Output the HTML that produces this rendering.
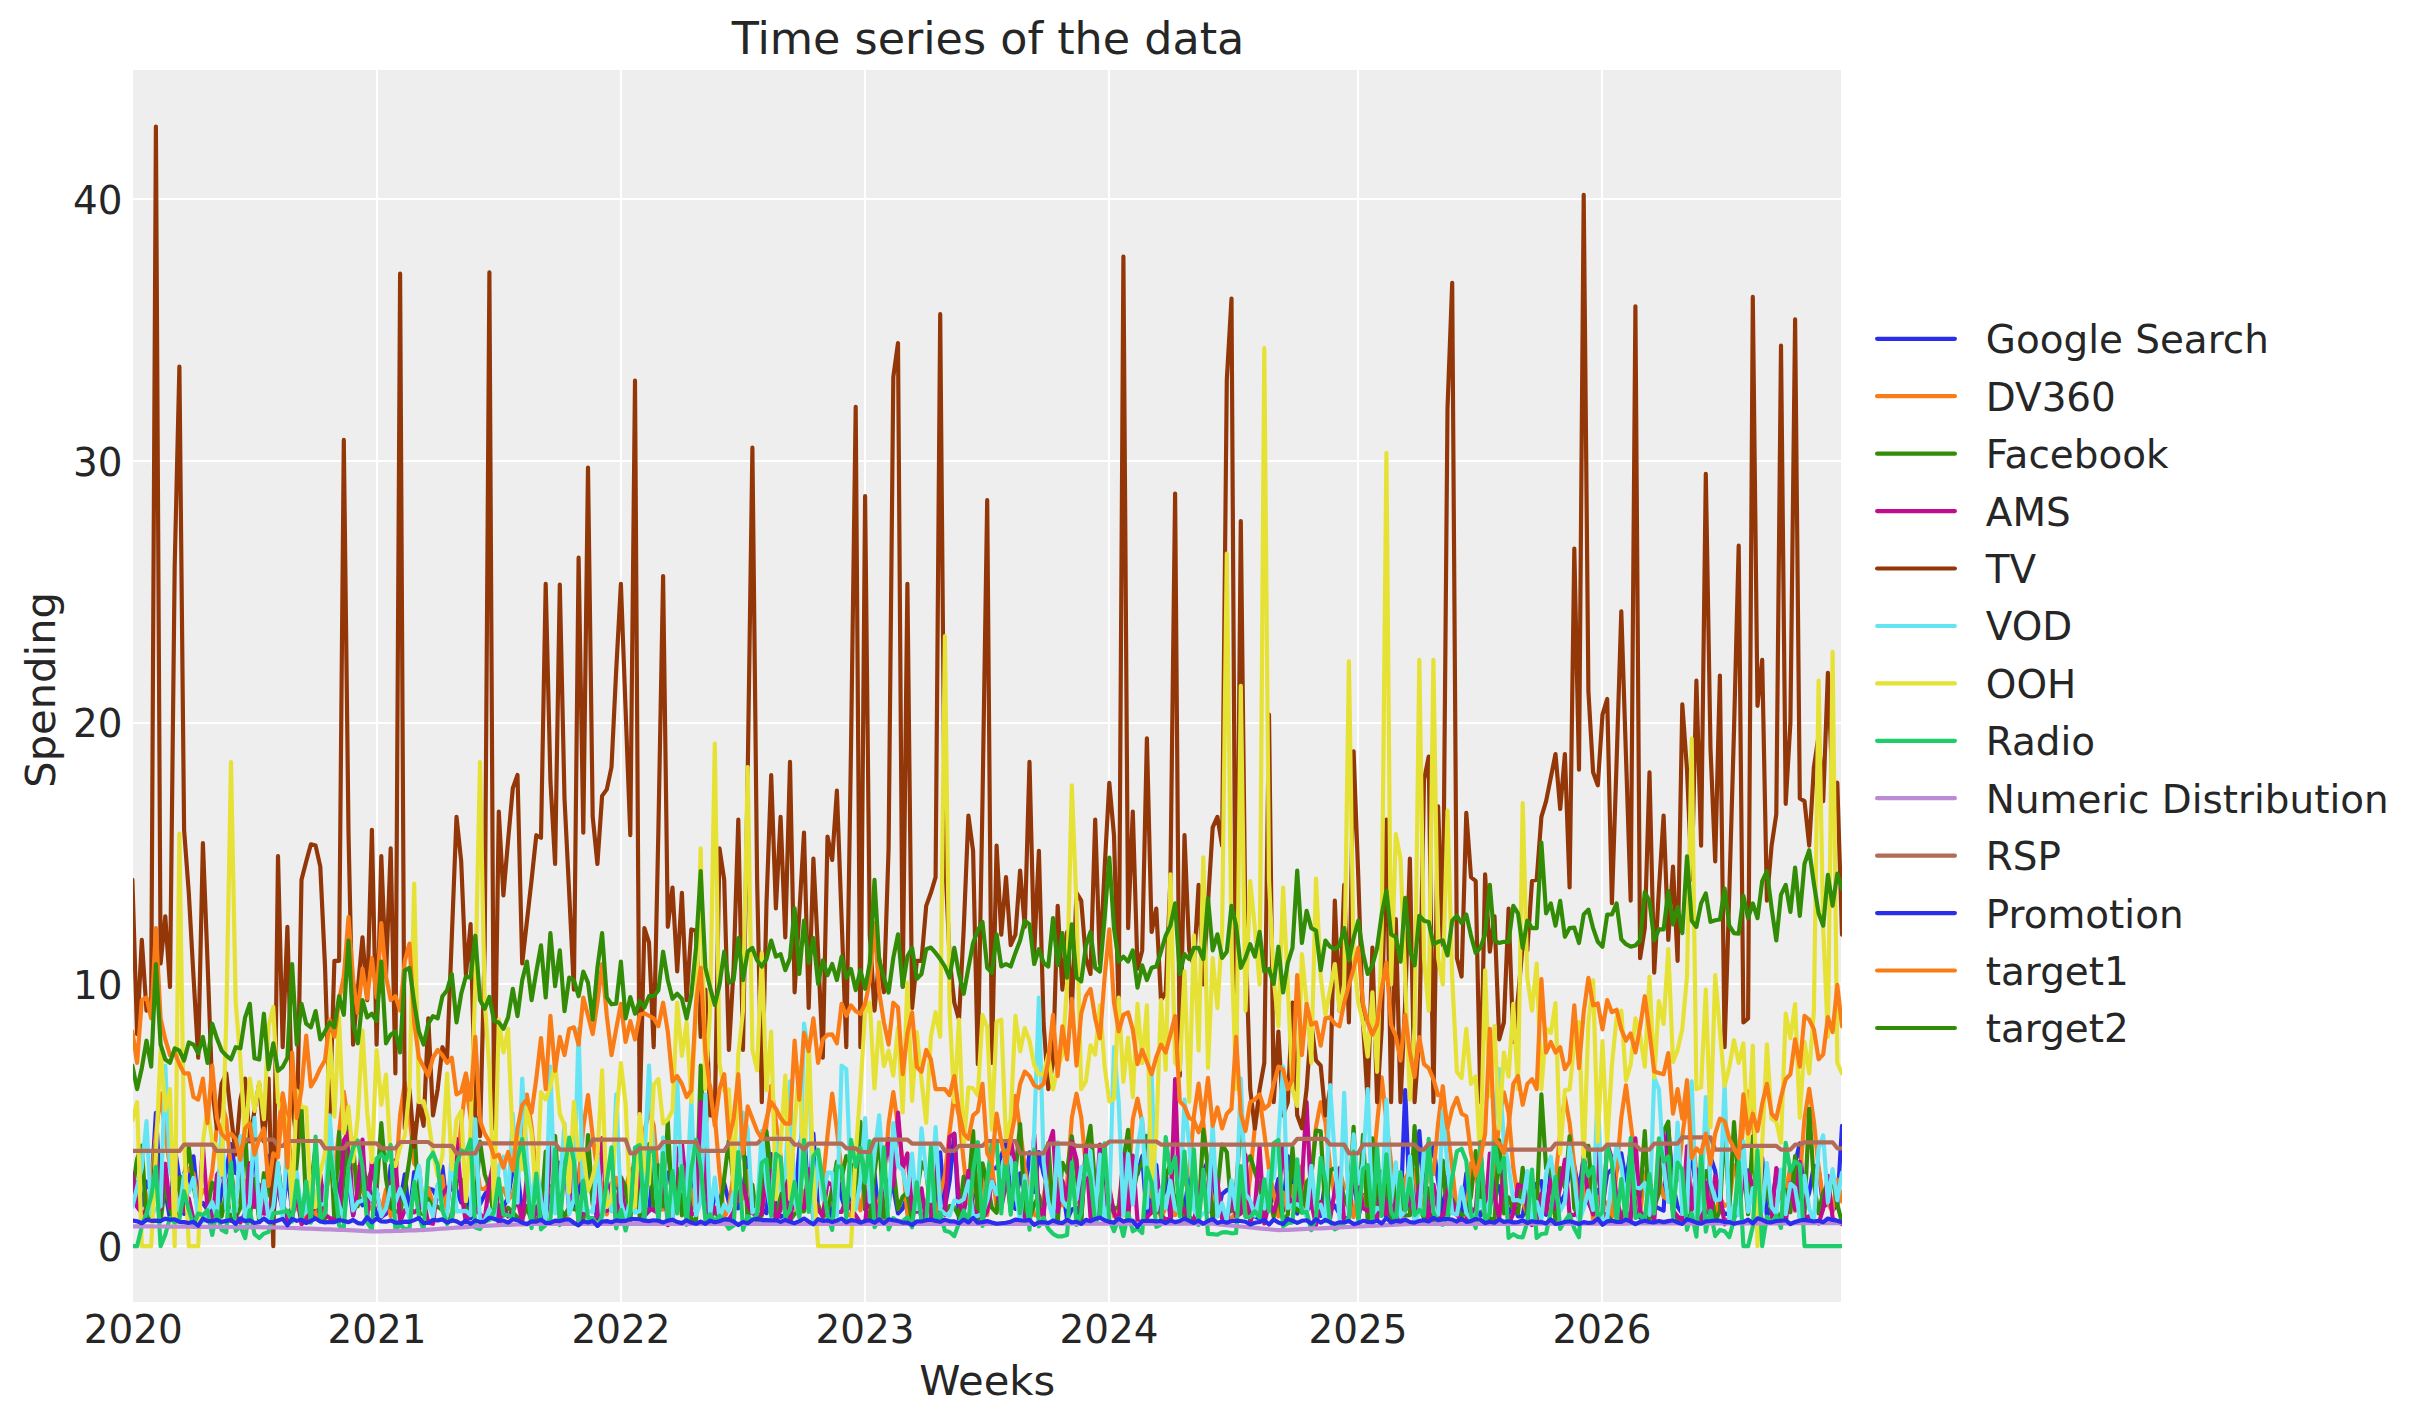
<!DOCTYPE html>
<html><head><meta charset="utf-8"><title>Time series of the data</title>
<style>html,body{margin:0;padding:0;background:#fff;}body{width:2423px;height:1423px;overflow:hidden;}svg{display:block;}text{font-family:"DejaVu Sans","Liberation Sans",sans-serif;fill:#262626;}</style></head><body>
<svg width="2423" height="1423" viewBox="0 0 2423 1423">
<rect x="0" y="0" width="2423" height="1423" fill="#ffffff"/>
<rect x="133.0" y="70.0" width="1708.0" height="1232.0" fill="#eeeeee"/>
<g stroke="#ffffff" stroke-width="2" fill="none">
<line x1="377.0" y1="70.0" x2="377.0" y2="1302.0"/>
<line x1="621.0" y1="70.0" x2="621.0" y2="1302.0"/>
<line x1="865.0" y1="70.0" x2="865.0" y2="1302.0"/>
<line x1="1109.0" y1="70.0" x2="1109.0" y2="1302.0"/>
<line x1="1358.0" y1="70.0" x2="1358.0" y2="1302.0"/>
<line x1="1602.0" y1="70.0" x2="1602.0" y2="1302.0"/>
<line x1="133.0" y1="1246.0" x2="1841.0" y2="1246.0"/>
<line x1="133.0" y1="984.0" x2="1841.0" y2="984.0"/>
<line x1="133.0" y1="723.0" x2="1841.0" y2="723.0"/>
<line x1="133.0" y1="461.0" x2="1841.0" y2="461.0"/>
<line x1="133.0" y1="199.0" x2="1841.0" y2="199.0"/>
</g>
<defs><clipPath id="c"><rect x="133.0" y="70.0" width="1709.0" height="1232.0"/></clipPath></defs>
<g clip-path="url(#c)" fill="none" stroke-width="4.17" stroke-linejoin="round" stroke-linecap="round">
<polyline stroke="#2a2eec" points="132.4,1181.5 137.1,1182.8 141.8,1205.5 146.5,1181.6 151.2,1191.0 155.9,1112.9 160.6,1196.7 165.3,1191.2 170.0,1219.2 174.7,1147.6 179.4,1178.1 184.1,1214.0 188.8,1181.5 193.5,1156.4 198.2,1205.0 202.9,1203.0 207.5,1209.9 212.2,1211.1 216.9,1219.3 221.6,1191.1 226.3,1170.3 231.0,1144.0 235.7,1173.1 240.4,1174.2 245.1,1211.3 249.8,1192.2 254.5,1144.1 259.2,1213.3 263.9,1213.0 268.6,1155.9 273.3,1218.3 278.0,1165.3 282.7,1211.0 287.4,1173.6 292.1,1208.9 296.8,1177.9 301.5,1216.9 306.2,1203.0 310.9,1209.1 315.6,1218.1 320.3,1205.1 325.0,1186.3 329.7,1176.1 334.4,1166.5 339.1,1201.9 343.8,1151.1 348.5,1182.4 353.1,1215.5 357.8,1193.6 362.5,1205.3 367.2,1182.6 371.9,1197.3 376.6,1214.7 381.3,1216.9 386.0,1213.8 390.7,1165.6 395.4,1182.8 400.1,1202.4 404.8,1174.3 409.5,1216.1 414.2,1172.0 418.9,1178.6 423.6,1209.4 428.3,1188.6 433.0,1189.7 437.7,1198.7 442.4,1166.6 447.1,1209.1 451.8,1170.1 456.5,1190.3 461.2,1202.5 465.9,1194.5 470.6,1218.3 475.3,1211.8 480.0,1204.1 484.7,1194.8 489.4,1188.0 494.1,1216.0 498.8,1216.6 503.4,1207.0 508.1,1197.5 512.8,1169.3 517.5,1172.2 522.2,1211.5 526.9,1206.0 531.6,1207.0 536.3,1207.3 541.0,1219.3 545.7,1214.3 550.4,1189.0 555.1,1180.4 559.8,1162.7 564.5,1181.8 569.2,1166.2 573.9,1207.2 578.6,1180.0 583.3,1205.1 588.0,1156.7 592.7,1201.8 597.4,1218.6 602.1,1205.1 606.8,1183.8 611.5,1198.4 616.2,1184.0 620.9,1185.8 625.6,1215.9 630.3,1212.1 635.0,1207.1 639.7,1174.4 644.4,1215.7 649.0,1211.1 653.7,1166.3 658.4,1211.2 663.1,1206.9 667.8,1172.5 672.5,1173.3 677.2,1169.8 681.9,1175.8 686.6,1203.2 691.3,1208.8 696.0,1166.3 700.7,1164.9 705.4,1214.3 710.1,1217.4 714.8,1196.4 719.5,1202.7 724.2,1183.3 728.9,1202.5 733.6,1192.1 738.3,1208.3 743.0,1190.2 747.7,1157.5 752.4,1204.5 757.1,1207.5 761.8,1209.1 766.5,1213.1 771.2,1154.0 775.9,1208.7 780.6,1216.8 785.3,1215.0 790.0,1202.4 794.6,1205.2 799.3,1148.4 804.0,1123.2 808.7,1208.9 813.4,1133.6 818.1,1210.0 822.8,1214.4 827.5,1203.6 832.2,1217.5 836.9,1171.1 841.6,1197.4 846.3,1212.6 851.0,1191.4 855.7,1170.4 860.4,1144.2 865.1,1209.4 869.8,1203.5 874.5,1173.2 879.2,1218.9 883.9,1178.4 888.6,1183.0 893.3,1187.6 898.0,1213.5 902.7,1208.5 907.4,1196.7 912.1,1210.6 916.8,1192.6 921.5,1218.9 926.2,1210.9 930.9,1176.8 935.6,1218.1 940.2,1152.4 944.9,1207.4 949.6,1181.2 954.3,1133.6 959.0,1219.3 963.7,1210.3 968.4,1193.2 973.1,1182.3 977.8,1204.4 982.5,1168.2 987.2,1191.7 991.9,1168.4 996.6,1168.2 1001.3,1155.8 1006.0,1143.0 1010.7,1198.7 1015.4,1208.8 1020.1,1173.4 1024.8,1193.6 1029.5,1152.4 1034.2,1192.0 1038.9,1152.0 1043.6,1173.9 1048.3,1186.7 1053.0,1212.6 1057.7,1210.1 1062.4,1186.7 1067.1,1219.5 1071.8,1209.4 1076.5,1207.8 1081.2,1218.1 1085.9,1152.7 1090.5,1181.6 1095.2,1215.6 1099.9,1208.3 1104.6,1173.5 1109.3,1190.5 1114.0,1213.1 1118.7,1215.2 1123.4,1183.5 1128.1,1204.9 1132.8,1157.2 1137.5,1174.2 1142.2,1156.2 1146.9,1220.0 1151.6,1179.3 1156.3,1165.1 1161.0,1215.9 1165.7,1171.4 1170.4,1219.0 1175.1,1204.9 1179.8,1211.6 1184.5,1208.5 1189.2,1175.5 1193.9,1173.5 1198.6,1215.4 1203.3,1172.1 1208.0,1160.4 1212.7,1168.8 1217.4,1214.4 1222.1,1194.1 1226.8,1190.1 1231.5,1189.0 1236.1,1216.2 1240.8,1207.0 1245.5,1207.4 1250.2,1208.1 1254.9,1216.5 1259.6,1219.0 1264.3,1185.0 1269.0,1203.9 1273.7,1198.4 1278.4,1178.8 1283.1,1210.8 1287.8,1156.2 1292.5,1177.4 1297.2,1213.7 1301.9,1177.4 1306.6,1210.6 1311.3,1205.6 1316.0,1208.2 1320.7,1216.0 1325.4,1179.2 1330.1,1211.0 1334.8,1205.4 1339.5,1214.0 1344.2,1219.1 1348.9,1217.2 1353.6,1170.2 1358.3,1218.0 1363.0,1195.1 1367.7,1206.1 1372.4,1207.2 1377.1,1196.2 1381.7,1209.0 1386.4,1216.3 1391.1,1171.2 1395.8,1176.5 1400.5,1214.5 1405.2,1090.2 1409.9,1205.6 1414.6,1210.9 1419.3,1131.0 1424.0,1192.9 1428.7,1163.2 1433.4,1146.8 1438.1,1181.0 1442.8,1213.8 1447.5,1176.8 1452.2,1205.3 1456.9,1214.8 1461.6,1214.1 1466.3,1173.4 1471.0,1214.4 1475.7,1207.9 1480.4,1215.8 1485.1,1204.2 1489.8,1207.4 1494.5,1183.0 1499.2,1186.7 1503.9,1211.0 1508.6,1214.0 1513.3,1203.3 1518.0,1216.4 1522.7,1216.1 1527.3,1187.6 1532.0,1191.2 1536.7,1183.8 1541.4,1181.1 1546.1,1214.9 1550.8,1170.8 1555.5,1182.7 1560.2,1203.7 1564.9,1194.1 1569.6,1172.8 1574.3,1166.3 1579.0,1190.7 1583.7,1157.3 1588.4,1202.1 1593.1,1212.8 1597.8,1189.8 1602.5,1205.5 1607.2,1173.8 1611.9,1169.4 1616.6,1171.1 1621.3,1153.3 1626.0,1181.6 1630.7,1149.6 1635.4,1207.9 1640.1,1217.6 1644.8,1217.5 1649.5,1218.3 1654.2,1206.0 1658.9,1208.4 1663.6,1210.7 1668.3,1128.4 1673.0,1185.0 1677.6,1206.7 1682.3,1213.6 1687.0,1170.7 1691.7,1159.0 1696.4,1188.4 1701.1,1170.3 1705.8,1213.7 1710.5,1156.7 1715.2,1171.2 1719.9,1205.7 1724.6,1213.8 1729.3,1213.7 1734.0,1219.6 1738.7,1193.2 1743.4,1180.2 1748.1,1170.3 1752.8,1193.3 1757.5,1195.8 1762.2,1157.8 1766.9,1216.1 1771.6,1205.5 1776.3,1173.7 1781.0,1190.8 1785.7,1214.4 1790.4,1204.0 1795.1,1163.1 1799.8,1143.4 1804.5,1207.3 1809.2,1192.7 1813.9,1165.7 1818.6,1168.1 1823.2,1206.9 1827.9,1203.4 1832.6,1210.0 1837.3,1205.3 1842.0,1125.8"/>
<polyline stroke="#fa7c17" points="132.4,1184.9 137.1,1188.6 141.8,1216.2 146.5,1209.2 151.2,1182.5 155.9,1134.4 160.6,1093.3 165.3,1132.2 170.0,1168.2 174.7,1173.2 179.4,1214.0 184.1,1173.3 188.8,1168.3 193.5,1173.8 198.2,1200.8 202.9,1190.0 207.5,1195.5 212.2,1171.6 216.9,1125.5 221.6,1102.4 226.3,1120.0 231.0,1168.9 235.7,1203.8 240.4,1199.3 245.1,1180.6 249.8,1201.7 254.5,1201.3 259.2,1206.4 263.9,1203.4 268.6,1188.7 273.3,1184.6 278.0,1130.8 282.7,1093.2 287.4,1121.1 292.1,1178.6 296.8,1209.1 301.5,1208.8 306.2,1218.9 310.9,1195.0 315.6,1213.7 320.3,1218.4 325.0,1194.0 329.7,1176.5 334.4,1171.6 339.1,1132.4 343.8,1091.7 348.5,1124.0 353.1,1167.9 357.8,1167.1 362.5,1190.4 367.2,1204.3 371.9,1209.3 376.6,1198.3 381.3,1211.6 386.0,1189.6 390.7,1216.3 395.4,1181.0 400.1,1114.8 404.8,1083.0 409.5,1113.7 414.2,1163.9 418.9,1166.8 423.6,1208.2 428.3,1187.7 433.0,1204.6 437.7,1196.4 442.4,1176.4 447.1,1212.8 451.8,1218.0 456.5,1171.7 461.2,1124.0 465.9,1084.6 470.6,1117.9 475.3,1156.2 480.0,1188.5 484.7,1189.1 489.4,1182.5 494.1,1215.6 498.8,1192.9 503.4,1188.4 508.1,1199.9 512.8,1194.8 517.5,1174.2 522.2,1125.5 526.9,1094.5 531.6,1127.2 536.3,1174.6 541.0,1194.3 545.7,1183.6 550.4,1192.6 555.1,1178.5 559.8,1213.9 564.5,1218.4 569.2,1212.6 573.9,1189.6 578.6,1180.1 583.3,1128.0 588.0,1095.0 592.7,1136.0 597.4,1173.0 602.1,1186.0 606.8,1214.4 611.5,1190.5 616.2,1177.8 620.9,1196.8 625.6,1189.5 630.3,1169.6 635.0,1167.6 639.7,1175.4 644.4,1131.5 649.0,1111.2 653.7,1125.3 658.4,1180.1 663.1,1209.6 667.8,1205.0 672.5,1208.9 677.2,1180.6 681.9,1192.4 686.6,1178.8 691.3,1190.2 696.0,1213.2 700.7,1177.3 705.4,1129.8 710.1,1085.8 714.8,1115.5 719.5,1172.5 724.2,1217.8 728.9,1208.1 733.6,1173.3 738.3,1200.2 743.0,1198.5 747.7,1171.0 752.4,1211.0 757.1,1217.4 761.8,1171.8 766.5,1124.5 771.2,1085.8 775.9,1121.5 780.6,1156.3 785.3,1212.5 790.0,1190.7 794.6,1207.5 799.3,1214.5 804.0,1191.2 808.7,1194.2 813.4,1192.7 818.1,1182.7 822.8,1182.9 827.5,1135.8 832.2,1093.5 836.9,1129.9 841.6,1172.6 846.3,1212.9 851.0,1216.0 855.7,1187.4 860.4,1210.3 865.1,1185.3 869.8,1197.6 874.5,1215.9 879.2,1199.6 883.9,1181.2 888.6,1123.9 893.3,1092.1 898.0,1126.1 902.7,1162.1 907.4,1214.5 912.1,1204.3 916.8,1206.1 921.5,1198.1 926.2,1212.8 930.9,1193.0 935.6,1216.2 940.2,1194.1 944.9,1174.7 949.6,1132.0 954.3,1093.9 959.0,1116.1 963.7,1161.5 968.4,1202.4 973.1,1191.6 977.8,1175.2 982.5,1170.5 987.2,1215.1 991.9,1164.5 996.6,1207.9 1001.3,1200.6 1006.0,1173.4 1010.7,1133.7 1015.4,1095.8 1020.1,1129.4 1024.8,1167.6 1029.5,1193.9 1034.2,1214.8 1038.9,1216.5 1043.6,1196.2 1048.3,1172.1 1053.0,1199.2 1057.7,1179.0 1062.4,1205.3 1067.1,1182.8 1071.8,1117.9 1076.5,1093.7 1081.2,1117.1 1085.9,1166.2 1090.5,1174.8 1095.2,1176.1 1099.9,1215.3 1104.6,1193.1 1109.3,1185.5 1114.0,1216.5 1118.7,1209.0 1123.4,1215.3 1128.1,1184.2 1132.8,1119.4 1137.5,1098.7 1142.2,1122.4 1146.9,1168.0 1151.6,1196.9 1156.3,1197.8 1161.0,1217.8 1165.7,1207.7 1170.4,1183.4 1175.1,1215.1 1179.8,1189.8 1184.5,1182.6 1189.2,1171.7 1193.9,1115.7 1198.6,1083.5 1203.3,1122.9 1208.0,1170.0 1212.7,1205.4 1217.4,1215.7 1222.1,1212.5 1226.8,1218.6 1231.5,1218.3 1236.1,1212.6 1240.8,1204.2 1245.5,1216.0 1250.2,1176.0 1254.9,1126.2 1259.6,1097.7 1264.3,1132.8 1269.0,1169.4 1273.7,1193.8 1278.4,1216.5 1283.1,1192.6 1287.8,1212.2 1292.5,1186.1 1297.2,1201.2 1301.9,1166.1 1306.6,1211.7 1311.3,1175.1 1316.0,1126.9 1320.7,1102.2 1325.4,1122.0 1330.1,1167.8 1334.8,1196.6 1339.5,1169.1 1344.2,1188.6 1348.9,1182.5 1353.6,1217.2 1358.3,1194.3 1363.0,1203.6 1367.7,1186.3 1372.4,1175.4 1377.1,1123.8 1381.7,1077.4 1386.4,1120.7 1391.1,1163.1 1395.8,1201.4 1400.5,1206.8 1405.2,1178.8 1409.9,1169.6 1414.6,1170.1 1419.3,1208.5 1424.0,1199.2 1428.7,1169.7 1433.4,1174.1 1438.1,1123.4 1442.8,1086.2 1447.5,1130.8 1452.2,1167.4 1456.9,1213.3 1461.6,1218.5 1466.3,1217.3 1471.0,1163.2 1475.7,1175.1 1480.4,1195.4 1485.1,1217.6 1489.8,1192.9 1494.5,1176.9 1499.2,1119.2 1503.9,1092.3 1508.6,1113.1 1513.3,1167.7 1518.0,1197.3 1522.7,1201.9 1527.3,1214.2 1532.0,1194.8 1536.7,1208.9 1541.4,1208.7 1546.1,1211.5 1550.8,1212.9 1555.5,1177.3 1560.2,1134.1 1564.9,1097.4 1569.6,1122.9 1574.3,1165.5 1579.0,1217.1 1583.7,1199.4 1588.4,1176.9 1593.1,1219.0 1597.8,1196.5 1602.5,1203.6 1607.2,1202.4 1611.9,1217.1 1616.6,1171.2 1621.3,1117.5 1626.0,1085.3 1630.7,1123.4 1635.4,1160.0 1640.1,1215.1 1644.8,1172.1 1649.5,1207.5 1654.2,1202.2 1658.9,1175.5 1663.6,1196.8 1668.3,1200.0 1673.0,1169.9 1677.6,1180.1 1682.3,1136.1 1687.0,1102.0 1691.7,1127.1 1696.4,1173.6 1701.1,1185.8 1705.8,1200.7 1710.5,1214.6 1715.2,1213.0 1719.9,1197.6 1724.6,1206.0 1729.3,1203.3 1734.0,1165.3 1738.7,1182.1 1743.4,1120.5 1748.1,1091.6 1752.8,1123.1 1757.5,1168.5 1762.2,1207.0 1766.9,1185.9 1771.6,1198.4 1776.3,1206.4 1781.0,1189.1 1785.7,1193.9 1790.4,1166.1 1795.1,1210.9 1799.8,1178.4 1804.5,1118.3 1809.2,1088.9 1813.9,1121.5 1818.6,1167.3 1823.2,1199.7 1827.9,1203.4 1832.6,1211.8 1837.3,1179.5 1842.0,1201.5"/>
<polyline stroke="#328c06" points="132.4,1191.2 137.1,1158.9 141.8,1145.7 146.5,1220.3 151.2,1214.5 155.9,1144.6 160.6,1221.1 165.3,1183.6 170.0,1209.2 174.7,1221.6 179.4,1177.5 184.1,1176.3 188.8,1147.2 193.5,1185.6 198.2,1210.5 202.9,1221.1 207.5,1209.5 212.2,1182.7 216.9,1192.4 221.6,1216.7 226.3,1191.9 231.0,1220.8 235.7,1217.6 240.4,1207.6 245.1,1128.4 249.8,1217.1 254.5,1179.0 259.2,1220.7 263.9,1173.2 268.6,1190.4 273.3,1205.8 278.0,1164.4 282.7,1204.8 287.4,1215.0 292.1,1207.8 296.8,1163.4 301.5,1108.5 306.2,1204.5 310.9,1186.4 315.6,1146.6 320.3,1221.2 325.0,1219.0 329.7,1122.6 334.4,1220.7 339.1,1132.1 343.8,1207.7 348.5,1127.1 353.1,1143.8 357.8,1206.3 362.5,1166.3 367.2,1184.0 371.9,1168.7 376.6,1190.3 381.3,1123.2 386.0,1178.7 390.7,1207.5 395.4,1211.1 400.1,1212.4 404.8,1190.0 409.5,1159.1 414.2,1123.2 418.9,1212.4 423.6,1214.4 428.3,1198.9 433.0,1208.2 437.7,1206.7 442.4,1210.2 447.1,1214.4 451.8,1221.1 456.5,1181.5 461.2,1179.3 465.9,1213.0 470.6,1206.2 475.3,1206.6 480.0,1141.6 484.7,1174.4 489.4,1188.4 494.1,1216.2 498.8,1205.1 503.4,1215.5 508.1,1207.7 512.8,1212.5 517.5,1217.5 522.2,1218.7 526.9,1207.0 531.6,1220.6 536.3,1220.4 541.0,1214.5 545.7,1151.6 550.4,1152.1 555.1,1135.9 559.8,1207.8 564.5,1216.0 569.2,1207.3 573.9,1209.1 578.6,1210.2 583.3,1221.2 588.0,1135.0 592.7,1204.7 597.4,1154.8 602.1,1211.4 606.8,1209.2 611.5,1209.6 616.2,1208.5 620.9,1177.0 625.6,1187.1 630.3,1220.9 635.0,1153.8 639.7,1216.8 644.4,1179.5 649.0,1144.2 653.7,1210.7 658.4,1165.2 663.1,1206.4 667.8,1121.3 672.5,1215.7 677.2,1168.6 681.9,1215.4 686.6,1171.3 691.3,1218.8 696.0,1221.6 700.7,1065.6 705.4,1177.5 710.1,1218.1 714.8,1210.3 719.5,1219.5 724.2,1178.0 728.9,1140.0 733.6,1183.4 738.3,1165.4 743.0,1134.7 747.7,1221.5 752.4,1184.7 757.1,1221.6 761.8,1215.5 766.5,1131.4 771.2,1174.6 775.9,1219.5 780.6,1196.7 785.3,1180.2 790.0,1220.4 794.6,1214.0 799.3,1210.9 804.0,1211.3 808.7,1176.8 813.4,1219.0 818.1,1204.7 822.8,1217.4 827.5,1212.6 832.2,1188.3 836.9,1161.5 841.6,1178.2 846.3,1156.0 851.0,1164.4 855.7,1195.0 860.4,1121.8 865.1,1207.5 869.8,1221.1 874.5,1172.7 879.2,1136.0 883.9,1217.7 888.6,1204.5 893.3,1167.0 898.0,1209.2 902.7,1196.5 907.4,1192.6 912.1,1221.5 916.8,1193.9 921.5,1162.4 926.2,1171.3 930.9,1212.2 935.6,1175.8 940.2,1208.0 944.9,1211.9 949.6,1206.1 954.3,1207.0 959.0,1216.7 963.7,1176.6 968.4,1191.5 973.1,1131.0 977.8,1220.1 982.5,1163.3 987.2,1183.4 991.9,1207.8 996.6,1212.8 1001.3,1164.9 1006.0,1168.3 1010.7,1211.6 1015.4,1172.8 1020.1,1124.1 1024.8,1213.3 1029.5,1218.9 1034.2,1204.6 1038.9,1195.4 1043.6,1215.9 1048.3,1143.2 1053.0,1212.6 1057.7,1221.9 1062.4,1162.8 1067.1,1172.1 1071.8,1136.2 1076.5,1171.3 1081.2,1221.7 1085.9,1151.3 1090.5,1125.8 1095.2,1186.7 1099.9,1214.8 1104.6,1208.1 1109.3,1210.4 1114.0,1209.2 1118.7,1206.5 1123.4,1161.4 1128.1,1129.8 1132.8,1195.2 1137.5,1170.8 1142.2,1163.8 1146.9,1135.9 1151.6,1156.4 1156.3,1212.9 1161.0,1205.2 1165.7,1176.3 1170.4,1164.4 1175.1,1209.1 1179.8,1184.3 1184.5,1219.8 1189.2,1216.5 1193.9,1221.1 1198.6,1216.2 1203.3,1129.7 1208.0,1168.0 1212.7,1220.5 1217.4,1190.7 1222.1,1144.6 1226.8,1152.1 1231.5,1211.1 1236.1,1189.7 1240.8,1121.7 1245.5,1163.1 1250.2,1156.2 1254.9,1171.7 1259.6,1186.6 1264.3,1211.9 1269.0,1197.2 1273.7,1216.9 1278.4,1194.8 1283.1,1220.5 1287.8,1214.7 1292.5,1147.5 1297.2,1210.4 1301.9,1212.2 1306.6,1182.4 1311.3,1176.4 1316.0,1130.5 1320.7,1131.2 1325.4,1213.4 1330.1,1170.3 1334.8,1168.2 1339.5,1179.2 1344.2,1197.5 1348.9,1209.3 1353.6,1126.9 1358.3,1218.4 1363.0,1134.9 1367.7,1221.9 1372.4,1138.3 1377.1,1204.5 1381.7,1171.3 1386.4,1189.7 1391.1,1219.5 1395.8,1183.1 1400.5,1194.8 1405.2,1215.5 1409.9,1215.2 1414.6,1126.2 1419.3,1207.4 1424.0,1218.2 1428.7,1188.3 1433.4,1221.1 1438.1,1219.1 1442.8,1160.7 1447.5,1218.7 1452.2,1199.0 1456.9,1209.1 1461.6,1215.1 1466.3,1213.8 1471.0,1196.1 1475.7,1151.1 1480.4,1194.2 1485.1,1219.1 1489.8,1218.1 1494.5,1221.1 1499.2,1140.3 1503.9,1213.3 1508.6,1197.4 1513.3,1210.4 1518.0,1213.4 1522.7,1167.9 1527.3,1215.3 1532.0,1212.0 1536.7,1208.8 1541.4,1094.4 1546.1,1168.5 1550.8,1169.0 1555.5,1221.0 1560.2,1168.2 1564.9,1187.5 1569.6,1136.3 1574.3,1208.2 1579.0,1218.2 1583.7,1160.1 1588.4,1145.8 1593.1,1210.0 1597.8,1153.2 1602.5,1213.3 1607.2,1214.9 1611.9,1221.0 1616.6,1221.7 1621.3,1215.5 1626.0,1207.9 1630.7,1161.1 1635.4,1192.6 1640.1,1196.9 1644.8,1131.0 1649.5,1219.6 1654.2,1206.9 1658.9,1193.3 1663.6,1131.5 1668.3,1121.7 1673.0,1209.3 1677.6,1219.1 1682.3,1218.4 1687.0,1216.1 1691.7,1205.8 1696.4,1178.7 1701.1,1192.2 1705.8,1171.1 1710.5,1182.6 1715.2,1221.3 1719.9,1210.8 1724.6,1124.9 1729.3,1208.8 1734.0,1122.2 1738.7,1187.0 1743.4,1161.7 1748.1,1214.2 1752.8,1136.4 1757.5,1219.6 1762.2,1208.9 1766.9,1185.4 1771.6,1212.4 1776.3,1213.0 1781.0,1216.8 1785.7,1190.0 1790.4,1212.3 1795.1,1156.1 1799.8,1217.6 1804.5,1213.7 1809.2,1108.8 1813.9,1183.2 1818.6,1213.4 1823.2,1192.5 1827.9,1184.3 1832.6,1177.2 1837.3,1204.5 1842.0,1222.4"/>
<polyline stroke="#c10c90" points="132.4,1173.5 137.1,1207.0 141.8,1213.0 146.5,1211.4 151.2,1212.3 155.9,1157.2 160.6,1209.4 165.3,1163.7 170.0,1207.7 174.7,1188.0 179.4,1207.8 184.1,1211.3 188.8,1198.5 193.5,1219.7 198.2,1218.5 202.9,1145.7 207.5,1208.9 212.2,1223.5 216.9,1175.0 221.6,1168.0 226.3,1194.5 231.0,1170.4 235.7,1216.2 240.4,1222.6 245.1,1213.0 249.8,1163.2 254.5,1207.0 259.2,1184.8 263.9,1213.7 268.6,1213.5 273.3,1190.0 278.0,1189.5 282.7,1210.0 287.4,1221.9 292.1,1217.3 296.8,1195.2 301.5,1224.2 306.2,1219.5 310.9,1211.3 315.6,1207.1 320.3,1174.6 325.0,1214.7 329.7,1218.0 334.4,1219.7 339.1,1219.1 343.8,1140.5 348.5,1132.1 353.1,1215.3 357.8,1188.9 362.5,1139.6 367.2,1218.3 371.9,1160.6 376.6,1189.8 381.3,1216.8 386.0,1210.9 390.7,1184.9 395.4,1160.4 400.1,1222.0 404.8,1210.1 409.5,1208.1 414.2,1212.4 418.9,1208.6 423.6,1200.5 428.3,1222.7 433.0,1223.8 437.7,1186.1 442.4,1195.0 447.1,1187.7 451.8,1189.3 456.5,1138.9 461.2,1191.8 465.9,1222.4 470.6,1207.5 475.3,1209.3 480.0,1213.9 484.7,1219.6 489.4,1182.0 494.1,1159.6 498.8,1224.1 503.4,1207.3 508.1,1216.5 512.8,1211.3 517.5,1198.6 522.2,1222.1 526.9,1177.4 531.6,1221.0 536.3,1212.8 541.0,1195.6 545.7,1220.9 550.4,1148.9 555.1,1159.4 559.8,1183.5 564.5,1155.3 569.2,1210.3 573.9,1150.3 578.6,1223.7 583.3,1208.3 588.0,1217.0 592.7,1220.9 597.4,1215.7 602.1,1138.0 606.8,1210.9 611.5,1182.9 616.2,1221.7 620.9,1179.2 625.6,1222.7 630.3,1210.1 635.0,1150.1 639.7,1178.4 644.4,1215.7 649.0,1209.3 653.7,1209.7 658.4,1214.1 663.1,1165.1 667.8,1225.2 672.5,1216.4 677.2,1151.1 681.9,1142.8 686.6,1191.5 691.3,1213.6 696.0,1213.8 700.7,1102.2 705.4,1169.1 710.1,1222.1 714.8,1207.4 719.5,1216.5 724.2,1224.1 728.9,1219.6 733.6,1211.7 738.3,1195.3 743.0,1184.6 747.7,1204.2 752.4,1212.9 757.1,1216.0 761.8,1213.9 766.5,1173.7 771.2,1171.1 775.9,1222.1 780.6,1209.5 785.3,1181.6 790.0,1222.3 794.6,1188.8 799.3,1207.5 804.0,1208.3 808.7,1169.3 813.4,1196.9 818.1,1209.4 822.8,1216.0 827.5,1182.2 832.2,1185.2 836.9,1212.0 841.6,1212.0 846.3,1199.1 851.0,1208.5 855.7,1215.5 860.4,1222.7 865.1,1223.9 869.8,1176.1 874.5,1198.9 879.2,1223.5 883.9,1168.6 888.6,1139.0 893.3,1186.1 898.0,1112.7 902.7,1169.1 907.4,1153.5 912.1,1209.1 916.8,1211.8 921.5,1188.4 926.2,1222.3 930.9,1219.8 935.6,1139.8 940.2,1211.4 944.9,1214.7 949.6,1136.8 954.3,1133.9 959.0,1203.2 963.7,1213.0 968.4,1170.9 973.1,1209.0 977.8,1214.4 982.5,1218.7 987.2,1211.4 991.9,1180.8 996.6,1191.4 1001.3,1207.3 1006.0,1183.8 1010.7,1138.2 1015.4,1168.5 1020.1,1208.3 1024.8,1217.4 1029.5,1224.4 1034.2,1134.5 1038.9,1207.9 1043.6,1216.8 1048.3,1146.1 1053.0,1131.0 1057.7,1212.0 1062.4,1180.7 1067.1,1200.8 1071.8,1141.6 1076.5,1159.8 1081.2,1212.0 1085.9,1148.3 1090.5,1217.2 1095.2,1216.4 1099.9,1144.6 1104.6,1208.5 1109.3,1189.5 1114.0,1213.0 1118.7,1222.9 1123.4,1154.0 1128.1,1220.1 1132.8,1155.7 1137.5,1220.6 1142.2,1222.8 1146.9,1216.9 1151.6,1212.4 1156.3,1172.3 1161.0,1215.0 1165.7,1219.8 1170.4,1218.1 1175.1,1079.2 1179.8,1214.3 1184.5,1208.7 1189.2,1222.4 1193.9,1219.8 1198.6,1201.4 1203.3,1171.4 1208.0,1211.6 1212.7,1169.0 1217.4,1181.3 1222.1,1218.5 1226.8,1224.3 1231.5,1193.9 1236.1,1216.5 1240.8,1213.6 1245.5,1155.0 1250.2,1222.2 1254.9,1209.0 1259.6,1147.0 1264.3,1223.5 1269.0,1203.4 1273.7,1211.8 1278.4,1197.5 1283.1,1145.4 1287.8,1195.8 1292.5,1203.4 1297.2,1203.6 1301.9,1182.7 1306.6,1102.2 1311.3,1203.1 1316.0,1225.0 1320.7,1201.9 1325.4,1209.6 1330.1,1218.6 1334.8,1190.7 1339.5,1168.0 1344.2,1220.9 1348.9,1220.4 1353.6,1168.4 1358.3,1177.9 1363.0,1208.3 1367.7,1211.0 1372.4,1207.4 1377.1,1219.9 1381.7,1179.9 1386.4,1217.0 1391.1,1190.4 1395.8,1216.1 1400.5,1218.8 1405.2,1210.7 1409.9,1198.0 1414.6,1218.1 1419.3,1185.8 1424.0,1178.6 1428.7,1224.0 1433.4,1184.5 1438.1,1209.0 1442.8,1223.1 1447.5,1190.2 1452.2,1201.0 1456.9,1214.0 1461.6,1222.6 1466.3,1219.5 1471.0,1209.1 1475.7,1211.5 1480.4,1150.0 1485.1,1214.0 1489.8,1153.7 1494.5,1196.6 1499.2,1218.8 1503.9,1169.9 1508.6,1224.5 1513.3,1213.4 1518.0,1184.6 1522.7,1186.7 1527.3,1207.7 1532.0,1225.1 1536.7,1220.5 1541.4,1193.3 1546.1,1212.7 1550.8,1180.2 1555.5,1208.6 1560.2,1187.1 1564.9,1159.6 1569.6,1214.7 1574.3,1215.1 1579.0,1211.4 1583.7,1155.4 1588.4,1199.7 1593.1,1214.4 1597.8,1148.4 1602.5,1222.5 1607.2,1143.7 1611.9,1158.7 1616.6,1198.1 1621.3,1218.0 1626.0,1211.3 1630.7,1219.4 1635.4,1138.3 1640.1,1211.0 1644.8,1219.6 1649.5,1186.0 1654.2,1221.2 1658.9,1154.5 1663.6,1134.4 1668.3,1172.9 1673.0,1210.7 1677.6,1216.3 1682.3,1220.3 1687.0,1146.3 1691.7,1209.9 1696.4,1169.3 1701.1,1222.6 1705.8,1182.7 1710.5,1216.2 1715.2,1176.0 1719.9,1192.8 1724.6,1224.4 1729.3,1217.8 1734.0,1208.5 1738.7,1210.1 1743.4,1178.6 1748.1,1172.8 1752.8,1186.2 1757.5,1195.1 1762.2,1223.0 1766.9,1223.2 1771.6,1219.4 1776.3,1168.2 1781.0,1178.3 1785.7,1222.6 1790.4,1182.8 1795.1,1209.8 1799.8,1161.9 1804.5,1218.4 1809.2,1216.1 1813.9,1220.5 1818.6,1223.6 1823.2,1208.8 1827.9,1175.8 1832.6,1218.1 1837.3,1221.6 1842.0,1224.1"/>
<polyline stroke="#933708" points="132.4,879.7 137.1,1034.1 141.8,939.9 146.5,1010.6 151.2,1002.7 155.9,126.5 160.6,963.5 165.3,916.3 170.0,987.0 174.7,565.5 179.4,366.6 184.1,829.9 188.8,892.8 193.5,976.5 198.2,1057.7 202.9,843.0 207.5,960.8 212.2,1089.1 216.9,1128.4 221.6,1083.9 226.3,1073.4 231.0,1115.3 235.7,1154.6 240.4,1099.6 245.1,1078.6 249.8,1141.5 254.5,1110.1 259.2,1083.9 263.9,1141.5 268.6,1078.6 273.3,1246.2 278.0,856.1 282.7,1047.2 287.4,926.8 292.1,1102.2 296.8,1141.5 301.5,879.7 306.2,861.4 310.9,844.3 315.6,845.6 320.3,866.6 325.0,966.1 329.7,1115.3 334.4,960.8 339.1,960.8 343.8,439.9 348.5,832.6 353.1,1044.6 357.8,989.6 362.5,937.3 367.2,1000.1 371.9,829.9 376.6,1044.6 381.3,856.1 386.0,976.5 390.7,848.3 395.4,1073.4 400.1,273.6 404.8,1128.4 409.5,1089.1 414.2,1146.7 418.9,1102.2 423.6,1125.8 428.3,1018.4 433.0,1115.3 437.7,1089.1 442.4,1047.2 447.1,1057.7 451.8,937.3 456.5,816.8 461.2,861.4 465.9,975.2 470.6,924.2 475.3,1115.3 480.0,1136.2 484.7,947.7 489.4,272.3 494.1,1128.4 498.8,811.6 503.4,895.4 508.1,840.4 512.8,788.1 517.5,775.0 522.2,963.5 526.9,921.6 531.6,879.7 536.3,835.2 541.0,837.8 545.7,583.8 550.4,780.2 555.1,864.0 559.8,584.6 564.5,798.5 569.2,892.8 573.9,989.6 578.6,557.7 583.3,832.6 588.0,467.6 592.7,816.8 597.4,864.0 602.1,795.9 606.8,789.4 611.5,767.1 616.2,670.2 620.9,583.8 625.6,709.5 630.3,835.2 635.0,380.7 639.7,1115.3 644.4,928.1 649.0,942.5 653.7,1047.2 658.4,829.9 663.1,576.0 667.8,926.8 672.5,887.5 677.2,971.3 681.9,892.8 686.6,1000.1 691.3,929.4 696.0,930.7 700.7,1036.8 705.4,989.6 710.1,1115.3 714.8,1115.3 719.5,848.3 724.2,879.7 728.9,1049.9 733.6,968.7 738.3,819.5 743.0,1049.9 747.7,775.0 752.4,447.7 757.1,879.7 761.8,1102.2 766.5,903.2 771.2,775.0 775.9,908.5 780.6,816.8 785.3,937.3 790.0,761.9 794.6,992.3 799.3,913.7 804.0,832.6 808.7,1008.0 813.4,858.7 818.1,953.0 822.8,1057.7 827.5,836.5 832.2,860.0 836.9,790.7 841.6,919.0 846.3,1047.2 851.0,748.8 855.7,406.9 860.4,1047.2 865.1,496.1 869.8,934.7 874.5,1010.6 879.2,958.2 883.9,992.3 888.6,848.3 893.3,377.0 898.0,343.0 902.7,987.0 907.4,583.8 912.1,1008.0 916.8,960.8 921.5,960.8 926.2,905.9 930.9,892.8 935.6,877.1 940.2,314.2 944.9,853.5 949.6,958.2 954.3,1002.7 959.0,1019.7 963.7,929.4 968.4,815.5 973.1,850.9 977.8,1064.2 982.5,801.1 987.2,500.1 991.9,1062.9 996.6,845.6 1001.3,934.7 1006.0,877.1 1010.7,945.1 1015.4,934.7 1020.1,870.5 1024.8,926.8 1029.5,761.9 1034.2,953.0 1038.9,850.9 1043.6,1023.7 1048.3,1089.1 1053.0,1062.9 1057.7,905.9 1062.4,989.6 1067.1,932.0 1071.8,1010.6 1076.5,892.8 1081.2,900.6 1085.9,958.2 1090.5,973.9 1095.2,819.5 1099.9,963.5 1104.6,869.2 1109.3,782.8 1114.0,835.2 1118.7,1010.6 1123.4,256.6 1128.1,928.1 1132.8,811.6 1137.5,968.7 1142.2,950.4 1146.9,738.3 1151.6,932.0 1156.3,908.5 1161.0,1000.1 1165.7,992.3 1170.4,879.7 1175.1,493.5 1179.8,1076.0 1184.5,835.2 1189.2,950.4 1193.9,966.1 1198.6,884.9 1203.3,984.4 1208.0,903.2 1212.7,827.3 1217.4,816.8 1222.1,845.6 1226.8,379.6 1231.5,298.5 1236.1,1044.6 1240.8,521.0 1245.5,932.0 1250.2,1089.1 1254.9,1128.4 1259.6,1089.1 1264.3,1062.9 1269.0,714.7 1273.7,1102.2 1278.4,1031.5 1283.1,1115.3 1287.8,1102.2 1292.5,1002.7 1297.2,1115.3 1301.9,1128.4 1306.6,1089.1 1311.3,1022.4 1316.0,1060.3 1320.7,1065.6 1325.4,1115.3 1330.1,1089.1 1334.8,900.6 1339.5,1010.6 1344.2,884.9 1348.9,1022.4 1353.6,751.4 1358.3,877.1 1363.0,1022.4 1367.7,1102.2 1372.4,947.7 1377.1,1102.2 1381.7,1028.9 1386.4,819.5 1391.1,1102.2 1395.8,919.0 1400.5,1102.2 1405.2,1002.7 1409.9,858.7 1414.6,1102.2 1419.3,1036.8 1424.0,780.2 1428.7,756.6 1433.4,1102.2 1438.1,806.4 1442.8,945.1 1447.5,408.4 1452.2,282.8 1456.9,958.2 1461.6,976.5 1466.3,812.9 1471.0,877.1 1475.7,881.0 1480.4,1102.2 1485.1,874.4 1489.8,951.7 1494.5,916.3 1499.2,1039.4 1503.9,1022.4 1508.6,908.5 1513.3,1042.0 1518.0,997.5 1522.7,945.1 1527.3,950.4 1532.0,881.0 1536.7,879.7 1541.4,816.8 1546.1,801.1 1550.8,777.6 1555.5,754.0 1560.2,809.0 1564.9,754.0 1569.6,887.5 1574.3,548.5 1579.0,769.7 1583.7,194.8 1588.4,691.2 1593.1,772.3 1597.8,785.4 1602.5,714.7 1607.2,699.0 1611.9,903.2 1616.6,761.9 1621.3,611.3 1626.0,756.6 1630.7,900.6 1635.4,306.3 1640.1,958.2 1644.8,928.1 1649.5,772.3 1654.2,972.6 1658.9,890.2 1663.6,815.5 1668.3,939.9 1673.0,866.6 1677.6,960.8 1682.3,704.3 1687.0,769.7 1691.7,879.7 1696.4,680.7 1701.1,845.6 1705.8,473.9 1710.5,748.8 1715.2,861.4 1719.9,675.5 1724.6,1047.2 1729.3,892.8 1734.0,730.5 1738.7,545.6 1743.4,1022.4 1748.1,1018.4 1752.8,296.9 1757.5,705.8 1762.2,659.8 1766.9,900.6 1771.6,845.6 1776.3,814.2 1781.0,345.6 1785.7,803.8 1790.4,722.6 1795.1,319.4 1799.8,798.5 1804.5,801.1 1809.2,845.6 1813.9,767.1 1818.6,735.7 1823.2,801.1 1827.9,672.9 1832.6,788.1 1837.3,782.8 1842.0,934.7"/>
<polyline stroke="#65e5f3" points="132.4,1206.9 137.1,1186.9 141.8,1168.1 146.5,1121.1 151.2,1215.4 155.9,1208.8 160.6,1206.5 165.3,1065.6 170.0,1168.6 174.7,1188.4 179.4,1211.6 184.1,1174.2 188.8,1192.1 193.5,1178.0 198.2,1218.8 202.9,1221.0 207.5,1210.5 212.2,1202.0 216.9,1218.6 221.6,1125.8 226.3,1209.5 231.0,1211.0 235.7,1211.3 240.4,1136.2 245.1,1221.5 249.8,1203.4 254.5,1117.9 259.2,1217.5 263.9,1180.9 268.6,1219.6 273.3,1206.5 278.0,1162.8 282.7,1219.2 287.4,1136.3 292.1,1209.2 296.8,1172.4 301.5,1215.5 306.2,1211.9 310.9,1176.5 315.6,1199.4 320.3,1204.8 325.0,1203.7 329.7,1115.3 334.4,1186.2 339.1,1205.0 343.8,1220.0 348.5,1170.2 353.1,1210.4 357.8,1202.3 362.5,1200.5 367.2,1193.0 371.9,1199.9 376.6,1189.6 381.3,1216.2 386.0,1208.6 390.7,1186.8 395.4,1202.3 400.1,1188.8 404.8,1201.1 409.5,1218.7 414.2,1184.7 418.9,1165.7 423.6,1211.8 428.3,1203.6 433.0,1216.2 437.7,1184.2 442.4,1210.5 447.1,1215.9 451.8,1152.8 456.5,1211.4 461.2,1211.1 465.9,1210.8 470.6,1215.2 475.3,1119.4 480.0,1221.0 484.7,1220.4 489.4,1208.9 494.1,1219.6 498.8,1166.6 503.4,1156.6 508.1,1201.4 512.8,1113.9 517.5,1202.6 522.2,1078.6 526.9,1160.2 531.6,1206.0 536.3,1163.1 541.0,1199.8 545.7,1220.6 550.4,1066.6 555.1,1213.3 559.8,1184.5 564.5,1123.6 569.2,1214.0 573.9,1199.4 578.6,1028.9 583.3,1210.0 588.0,1210.8 592.7,1212.1 597.4,1155.3 602.1,1218.4 606.8,1190.6 611.5,1211.4 616.2,1094.4 620.9,1202.1 625.6,1219.4 630.3,1201.2 635.0,1212.7 639.7,1211.2 644.4,1163.7 649.0,1065.6 653.7,1157.4 658.4,1221.3 663.1,1137.5 667.8,1221.5 672.5,1220.0 677.2,1081.3 681.9,1190.0 686.6,1195.5 691.3,1099.6 696.0,1215.2 700.7,1202.1 705.4,1094.4 710.1,1216.3 714.8,1177.5 719.5,1217.5 724.2,1204.7 728.9,1211.2 733.6,1192.3 738.3,1168.5 743.0,1112.7 747.7,1129.9 752.4,1212.5 757.1,1208.6 761.8,1130.9 766.5,1184.7 771.2,1212.7 775.9,1136.5 780.6,1189.9 785.3,1175.4 790.0,1081.3 794.6,1201.7 799.3,1216.1 804.0,1023.7 808.7,1052.5 813.4,1220.3 818.1,1155.8 822.8,1199.2 827.5,1172.7 832.2,1172.9 836.9,1215.7 841.6,1065.6 846.3,1069.2 851.0,1191.2 855.7,1209.7 860.4,1180.7 865.1,1118.2 869.8,1201.9 874.5,1154.6 879.2,1115.3 883.9,1178.7 888.6,1208.5 893.3,1123.2 898.0,1165.9 902.7,1170.2 907.4,1194.8 912.1,1153.6 916.8,1209.1 921.5,1128.3 926.2,1172.1 930.9,1201.0 935.6,1127.0 940.2,1209.6 944.9,1213.9 949.6,1215.8 954.3,1200.4 959.0,1202.0 963.7,1199.2 968.4,1181.2 973.1,1216.3 977.8,1215.9 982.5,1213.6 987.2,1200.4 991.9,1181.3 996.6,1194.3 1001.3,1170.2 1006.0,1152.9 1010.7,1159.5 1015.4,1192.3 1020.1,1220.0 1024.8,1175.5 1029.5,1210.9 1034.2,1131.7 1038.9,997.5 1043.6,1161.8 1048.3,1201.2 1053.0,1218.9 1057.7,1142.1 1062.4,1200.5 1067.1,1207.1 1071.8,1193.0 1076.5,1199.5 1081.2,1166.8 1085.9,1174.6 1090.5,1150.9 1095.2,1215.9 1099.9,1154.7 1104.6,1220.0 1109.3,1202.5 1114.0,1047.2 1118.7,1102.2 1123.4,1215.1 1128.1,1154.1 1132.8,1204.3 1137.5,1147.5 1142.2,1118.7 1146.9,1207.6 1151.6,1074.2 1156.3,1210.5 1161.0,1189.8 1165.7,1208.0 1170.4,1180.7 1175.1,1209.1 1179.8,1212.1 1184.5,1099.6 1189.2,1144.6 1193.9,1209.8 1198.6,1218.0 1203.3,1213.3 1208.0,1211.2 1212.7,1124.3 1217.4,1216.7 1222.1,1203.2 1226.8,1220.6 1231.5,1180.2 1236.1,1209.9 1240.8,1078.6 1245.5,1193.8 1250.2,1200.7 1254.9,1215.7 1259.6,1196.4 1264.3,1208.5 1269.0,1171.0 1273.7,1178.0 1278.4,1138.7 1283.1,1066.6 1287.8,1208.1 1292.5,1204.8 1297.2,1204.1 1301.9,1207.8 1306.6,1216.9 1311.3,1165.8 1316.0,1209.7 1320.7,1204.6 1325.4,1221.4 1330.1,1085.2 1334.8,1156.8 1339.5,1218.3 1344.2,1092.8 1348.9,1220.0 1353.6,1134.3 1358.3,1183.6 1363.0,1164.1 1367.7,1089.1 1372.4,1215.0 1377.1,1208.0 1381.7,1209.9 1386.4,1099.6 1391.1,1202.4 1395.8,1162.3 1400.5,1216.6 1405.2,1211.1 1409.9,1156.4 1414.6,1221.0 1419.3,1213.2 1424.0,1148.8 1428.7,1151.4 1433.4,1211.5 1438.1,1214.6 1442.8,1111.2 1447.5,1166.2 1452.2,1213.2 1456.9,1214.6 1461.6,1187.4 1466.3,1213.1 1471.0,1218.7 1475.7,1214.1 1480.4,1200.8 1485.1,1213.8 1489.8,1200.3 1494.5,1120.7 1499.2,1069.2 1503.9,1141.6 1508.6,1166.2 1513.3,1200.4 1518.0,1200.0 1522.7,1202.6 1527.3,1171.1 1532.0,1218.9 1536.7,1202.0 1541.4,1219.4 1546.1,1173.3 1550.8,1156.7 1555.5,1189.7 1560.2,1210.9 1564.9,1202.2 1569.6,1146.6 1574.3,1178.1 1579.0,1222.1 1583.7,1208.2 1588.4,1190.4 1593.1,1210.0 1597.8,1086.5 1602.5,1221.9 1607.2,1218.7 1611.9,1178.3 1616.6,1145.2 1621.3,1165.9 1626.0,1202.9 1630.7,1153.9 1635.4,1187.2 1640.1,1188.4 1644.8,1183.0 1649.5,1215.0 1654.2,1077.9 1658.9,1089.1 1663.6,1165.5 1668.3,1202.0 1673.0,1202.7 1677.6,1122.5 1682.3,1213.9 1687.0,1212.6 1691.7,1081.3 1696.4,1217.5 1701.1,1208.6 1705.8,1097.0 1710.5,1182.6 1715.2,1199.8 1719.9,1199.6 1724.6,1083.9 1729.3,1220.8 1734.0,1205.1 1738.7,1215.4 1743.4,1141.5 1748.1,1211.8 1752.8,1188.0 1757.5,1214.6 1762.2,1211.6 1766.9,1163.2 1771.6,1207.0 1776.3,1213.8 1781.0,1169.5 1785.7,1214.1 1790.4,1183.6 1795.1,1187.8 1799.8,1217.8 1804.5,1175.7 1809.2,1208.6 1813.9,1222.0 1818.6,1148.4 1823.2,1135.4 1827.9,1202.4 1832.6,1169.0 1837.3,1200.3 1842.0,1172.6"/>
<polyline stroke="#e6e135" points="132.4,1120.5 137.1,1102.2 141.8,1246.2 146.5,1246.2 151.2,1246.2 155.9,1154.6 160.6,1049.9 165.3,1110.1 170.0,1089.1 174.7,1246.2 179.4,833.6 184.1,1141.5 188.8,1246.2 193.5,1246.2 198.2,1246.2 202.9,1143.1 207.5,1106.9 212.2,1141.7 216.9,1145.9 221.6,1174.8 226.3,1018.4 231.0,762.1 235.7,1002.7 240.4,1060.3 245.1,1141.1 249.8,1078.6 254.5,1111.0 259.2,1082.1 263.9,1119.3 268.6,1026.3 273.3,1006.9 278.0,1102.2 282.7,1112.4 287.4,1122.3 292.1,1206.9 296.8,1090.7 301.5,1107.1 306.2,1107.5 310.9,1206.9 315.6,1206.9 320.3,1172.9 325.0,1153.1 329.7,1034.1 334.4,1116.6 339.1,1017.4 343.8,1133.2 348.5,1106.5 353.1,1161.3 357.8,1116.5 362.5,1030.5 367.2,1112.4 371.9,1162.2 376.6,1050.1 381.3,1104.8 386.0,1074.6 390.7,1160.2 395.4,1165.9 400.1,1147.2 404.8,1136.0 409.5,1089.1 414.2,883.6 418.9,1102.2 423.6,1101.2 428.3,1119.3 433.0,1152.1 437.7,1176.1 442.4,1155.5 447.1,1073.5 451.8,1169.1 456.5,1119.5 461.2,1110.9 465.9,1201.2 470.6,1128.7 475.3,984.4 480.0,762.1 484.7,1000.1 489.4,1069.5 494.1,1206.9 498.8,1019.7 503.4,1052.5 508.1,1028.9 512.8,1146.2 517.5,1136.0 522.2,1169.5 526.9,1107.6 531.6,1133.9 536.3,1200.0 541.0,1092.0 545.7,1099.5 550.4,1086.4 555.1,1063.1 559.8,1113.9 564.5,1125.4 569.2,1192.2 573.9,1102.0 578.6,1159.8 583.3,1152.3 588.0,1190.6 592.7,1176.6 597.4,1156.0 602.1,1070.3 606.8,1206.9 611.5,1199.7 616.2,1119.7 620.9,1063.0 625.6,1103.7 630.3,1206.9 635.0,1206.9 639.7,1114.2 644.4,1165.7 649.0,1183.8 653.7,1085.0 658.4,1079.1 663.1,1123.6 667.8,1119.4 672.5,1110.5 677.2,1002.7 681.9,1055.9 686.6,1022.4 691.3,1101.8 696.0,1010.6 700.7,848.3 705.4,1089.1 710.1,1010.6 714.8,743.5 719.5,1062.9 724.2,1090.9 728.9,1089.5 733.6,1189.2 738.3,1054.9 743.0,1010.6 747.7,767.1 752.4,1049.9 757.1,1070.3 761.8,953.0 766.5,1090.3 771.2,1031.5 775.9,1199.1 780.6,1145.2 785.3,1075.6 790.0,1199.1 794.6,1124.0 799.3,1067.3 804.0,1177.1 808.7,1039.4 813.4,1178.1 818.1,1246.2 822.8,1246.2 827.5,1246.2 832.2,1246.2 836.9,1246.2 841.6,1246.2 846.3,1246.2 851.0,1246.2 855.7,1154.6 860.4,1089.3 865.1,1013.2 869.8,1002.7 874.5,1088.3 879.2,1022.4 883.9,1066.0 888.6,1050.6 893.3,1075.6 898.0,1027.3 902.7,1112.4 907.4,982.6 912.1,1100.8 916.8,1032.2 921.5,1080.0 926.2,1122.8 930.9,1036.7 935.6,1012.2 940.2,1036.8 944.9,636.2 949.6,1010.6 954.3,1102.2 959.0,1019.7 963.7,1146.3 968.4,1087.6 973.1,1088.3 977.8,1095.3 982.5,1015.1 987.2,1027.3 991.9,1129.7 996.6,1021.9 1001.3,1019.7 1006.0,1141.0 1010.7,1118.4 1015.4,1015.8 1020.1,1051.5 1024.8,1028.1 1029.5,1040.8 1034.2,1065.0 1038.9,1074.6 1043.6,1074.1 1048.3,1054.2 1053.0,1089.6 1057.7,1068.2 1062.4,1054.3 1067.1,984.4 1071.8,785.4 1076.5,905.9 1081.2,1089.1 1085.9,1081.2 1090.5,1045.3 1095.2,1054.6 1099.9,1005.3 1104.6,1066.0 1109.3,1101.4 1114.0,1098.8 1118.7,997.5 1123.4,1081.9 1128.1,1037.7 1132.8,1097.1 1137.5,1003.8 1142.2,1063.1 1146.9,1005.3 1151.6,1180.8 1156.3,1134.2 1161.0,1000.1 1165.7,1069.8 1170.4,874.4 1175.1,1062.5 1179.8,1070.0 1184.5,971.3 1189.2,1101.6 1193.9,935.4 1198.6,1050.4 1203.3,857.4 1208.0,1068.0 1212.7,958.2 1217.4,1008.0 1222.1,932.0 1226.8,553.5 1231.5,947.7 1236.1,1089.1 1240.8,685.9 1245.5,1010.6 1250.2,881.0 1254.9,928.1 1259.6,984.4 1264.3,348.2 1269.0,879.7 1273.7,977.6 1278.4,1026.3 1283.1,887.5 1287.8,987.0 1292.5,1089.1 1297.2,1105.9 1301.9,954.0 1306.6,1002.7 1311.3,1062.9 1316.0,878.6 1320.7,976.5 1325.4,1014.8 1330.1,989.6 1334.8,964.0 1339.5,1010.6 1344.2,984.4 1348.9,661.3 1353.6,958.2 1358.3,1002.7 1363.0,1022.4 1367.7,1056.7 1372.4,992.3 1377.1,1071.8 1381.7,932.0 1386.4,452.9 1391.1,984.4 1395.8,834.1 1400.5,858.7 1405.2,977.6 1409.9,1099.5 1414.6,1027.3 1419.3,659.8 1424.0,958.2 1428.7,1010.6 1433.4,659.8 1438.1,958.2 1442.8,984.4 1447.5,810.6 1452.2,977.6 1456.9,1071.8 1461.6,1078.1 1466.3,1028.9 1471.0,1084.0 1475.7,1076.4 1480.4,1162.4 1485.1,970.3 1489.8,1096.4 1494.5,1025.9 1499.2,1128.5 1503.9,1052.5 1508.6,1076.6 1513.3,1003.8 1518.0,1089.1 1522.7,803.0 1527.3,977.6 1532.0,1010.6 1536.7,963.5 1541.4,1089.1 1546.1,1028.5 1550.8,1033.1 1555.5,1003.1 1560.2,1153.6 1564.9,1090.1 1569.6,1089.5 1574.3,1044.0 1579.0,1022.0 1583.7,1162.4 1588.4,1022.1 1593.1,980.2 1597.8,1141.6 1602.5,1041.2 1607.2,1143.7 1611.9,1065.1 1616.6,1017.1 1621.3,1010.6 1626.0,1080.4 1630.7,1064.4 1635.4,1018.4 1640.1,1035.8 1644.8,1066.7 1649.5,976.5 1654.2,1077.6 1658.9,1001.2 1663.6,1024.0 1668.3,949.1 1673.0,1061.9 1677.6,1049.9 1682.3,1028.9 1687.0,976.5 1691.7,738.6 1696.4,1089.1 1701.1,1087.3 1705.8,989.6 1710.5,1127.5 1715.2,975.2 1719.9,1030.3 1724.6,1085.9 1729.3,1067.2 1734.0,1040.2 1738.7,1062.9 1743.4,1043.3 1748.1,1145.4 1752.8,1045.7 1757.5,1246.2 1762.2,1144.5 1766.9,1044.4 1771.6,1118.8 1776.3,1121.8 1781.0,1142.7 1785.7,1013.7 1790.4,1038.2 1795.1,1004.0 1799.8,1117.6 1804.5,1042.0 1809.2,1073.4 1813.9,1010.6 1818.6,680.7 1823.2,928.1 1827.9,1036.8 1832.6,651.9 1837.3,1062.9 1842.0,1073.4"/>
<polyline stroke="#1ccd6a" points="132.4,1246.2 137.1,1246.2 141.8,1226.3 146.5,1213.2 151.2,1196.5 155.9,1166.9 160.6,1246.2 165.3,1234.6 170.0,1217.8 174.7,1222.6 179.4,1219.1 184.1,1191.2 188.8,1209.9 193.5,1225.0 198.2,1213.6 202.9,1215.1 207.5,1210.3 212.2,1235.0 216.9,1211.2 221.6,1229.9 226.3,1232.3 231.0,1162.4 235.7,1230.8 240.4,1226.2 245.1,1238.1 249.8,1210.4 254.5,1234.1 259.2,1238.0 263.9,1233.6 268.6,1231.9 273.3,1213.4 278.0,1212.7 282.7,1212.0 287.4,1210.8 292.1,1221.5 296.8,1180.6 301.5,1219.1 306.2,1181.3 310.9,1222.7 315.6,1136.7 320.3,1219.1 325.0,1214.1 329.7,1150.1 334.4,1181.5 339.1,1225.5 343.8,1227.7 348.5,1167.0 353.1,1147.5 357.8,1140.4 362.5,1167.0 367.2,1222.3 371.9,1229.6 376.6,1158.7 381.3,1154.1 386.0,1160.9 390.7,1144.9 395.4,1230.1 400.1,1224.4 404.8,1229.2 409.5,1228.4 414.2,1181.8 418.9,1216.2 423.6,1230.0 428.3,1160.2 433.0,1152.8 437.7,1164.7 442.4,1210.3 447.1,1224.1 451.8,1218.0 456.5,1164.4 461.2,1150.4 465.9,1152.6 470.6,1139.6 475.3,1227.5 480.0,1229.1 484.7,1221.4 489.4,1220.0 494.1,1211.4 498.8,1178.5 503.4,1214.6 508.1,1215.1 512.8,1217.5 517.5,1157.9 522.2,1139.1 526.9,1180.9 531.6,1228.1 536.3,1173.7 541.0,1229.3 545.7,1225.0 550.4,1219.5 555.1,1149.4 559.8,1225.1 564.5,1170.4 569.2,1137.6 573.9,1161.1 578.6,1225.0 583.3,1180.7 588.0,1217.9 592.7,1218.0 597.4,1225.9 602.1,1215.5 606.8,1182.0 611.5,1147.4 616.2,1228.5 620.9,1210.0 625.6,1230.5 630.3,1211.5 635.0,1147.5 639.7,1145.2 644.4,1222.6 649.0,1150.9 653.7,1150.7 658.4,1222.2 663.1,1153.0 667.8,1221.7 672.5,1171.1 677.2,1213.5 681.9,1166.0 686.6,1224.9 691.3,1169.2 696.0,1139.9 700.7,1166.8 705.4,1220.1 710.1,1214.3 714.8,1221.1 719.5,1215.8 724.2,1221.2 728.9,1228.8 733.6,1225.6 738.3,1152.1 743.0,1229.8 747.7,1216.2 752.4,1220.9 757.1,1214.0 761.8,1162.6 766.5,1159.4 771.2,1216.2 775.9,1153.9 780.6,1157.4 785.3,1217.0 790.0,1209.8 794.6,1181.8 799.3,1217.4 804.0,1140.0 808.7,1211.8 813.4,1156.3 818.1,1149.6 822.8,1182.6 827.5,1214.9 832.2,1229.9 836.9,1166.3 841.6,1167.0 846.3,1218.1 851.0,1139.8 855.7,1166.7 860.4,1147.9 865.1,1182.7 869.8,1141.2 874.5,1227.1 879.2,1219.3 883.9,1147.3 888.6,1229.4 893.3,1218.1 898.0,1222.2 902.7,1221.0 907.4,1217.2 912.1,1227.3 916.8,1182.3 921.5,1220.1 926.2,1222.9 930.9,1147.1 935.6,1222.3 940.2,1213.0 944.9,1230.8 949.6,1232.0 954.3,1236.1 959.0,1223.0 963.7,1210.5 968.4,1223.0 973.1,1170.9 977.8,1142.2 982.5,1226.0 987.2,1180.3 991.9,1141.5 996.6,1140.7 1001.3,1213.4 1006.0,1150.3 1010.7,1214.6 1015.4,1163.2 1020.1,1213.2 1024.8,1181.6 1029.5,1229.6 1034.2,1149.5 1038.9,1226.5 1043.6,1217.7 1048.3,1228.8 1053.0,1233.8 1057.7,1236.3 1062.4,1236.3 1067.1,1234.9 1071.8,1162.4 1076.5,1225.0 1081.2,1213.0 1085.9,1155.3 1090.5,1178.2 1095.2,1222.8 1099.9,1215.6 1104.6,1143.4 1109.3,1220.0 1114.0,1231.2 1118.7,1218.3 1123.4,1236.0 1128.1,1213.0 1132.8,1231.3 1137.5,1228.4 1142.2,1233.0 1146.9,1167.5 1151.6,1182.6 1156.3,1226.8 1161.0,1224.3 1165.7,1137.2 1170.4,1172.9 1175.1,1157.0 1179.8,1216.4 1184.5,1151.5 1189.2,1218.7 1193.9,1149.3 1198.6,1225.0 1203.3,1169.6 1208.0,1233.8 1212.7,1234.1 1217.4,1234.7 1222.1,1232.3 1226.8,1232.2 1231.5,1233.3 1236.1,1233.0 1240.8,1166.2 1245.5,1217.0 1250.2,1217.1 1254.9,1211.1 1259.6,1217.6 1264.3,1179.3 1269.0,1211.1 1273.7,1143.2 1278.4,1139.9 1283.1,1226.3 1287.8,1223.3 1292.5,1222.4 1297.2,1159.3 1301.9,1212.8 1306.6,1211.8 1311.3,1230.2 1316.0,1217.1 1320.7,1157.8 1325.4,1181.3 1330.1,1221.2 1334.8,1229.4 1339.5,1226.6 1344.2,1223.3 1348.9,1218.1 1353.6,1151.5 1358.3,1220.2 1363.0,1169.0 1367.7,1165.2 1372.4,1222.0 1377.1,1146.1 1381.7,1216.0 1386.4,1154.4 1391.1,1211.7 1395.8,1220.5 1400.5,1172.1 1405.2,1210.4 1409.9,1178.5 1414.6,1215.0 1419.3,1210.0 1424.0,1215.3 1428.7,1138.9 1433.4,1211.9 1438.1,1223.3 1442.8,1224.9 1447.5,1215.9 1452.2,1177.1 1456.9,1151.3 1461.6,1148.7 1466.3,1160.7 1471.0,1214.1 1475.7,1228.0 1480.4,1141.8 1485.1,1220.3 1489.8,1214.2 1494.5,1139.7 1499.2,1172.2 1503.9,1157.7 1508.6,1237.9 1513.3,1234.2 1518.0,1236.9 1522.7,1237.3 1527.3,1222.1 1532.0,1169.5 1536.7,1238.0 1541.4,1234.0 1546.1,1233.5 1550.8,1211.1 1555.5,1176.9 1560.2,1229.0 1564.9,1221.0 1569.6,1214.6 1574.3,1228.4 1579.0,1237.2 1583.7,1160.3 1588.4,1175.8 1593.1,1167.1 1597.8,1217.0 1602.5,1211.9 1607.2,1145.9 1611.9,1162.3 1616.6,1222.2 1621.3,1179.0 1626.0,1222.4 1630.7,1138.0 1635.4,1217.9 1640.1,1214.9 1644.8,1220.3 1649.5,1174.0 1654.2,1213.4 1658.9,1138.4 1663.6,1161.7 1668.3,1156.4 1673.0,1216.7 1677.6,1162.7 1682.3,1169.7 1687.0,1229.8 1691.7,1213.1 1696.4,1236.7 1701.1,1153.2 1705.8,1231.6 1710.5,1210.7 1715.2,1236.1 1719.9,1229.9 1724.6,1231.2 1729.3,1237.1 1734.0,1219.5 1738.7,1161.8 1743.4,1246.2 1748.1,1246.2 1752.8,1226.4 1757.5,1150.2 1762.2,1246.2 1766.9,1216.7 1771.6,1222.6 1776.3,1215.8 1781.0,1227.9 1785.7,1142.8 1790.4,1171.5 1795.1,1161.4 1799.8,1164.7 1804.5,1246.2 1809.2,1246.2 1813.9,1246.2 1818.6,1246.2 1823.2,1246.2 1827.9,1246.2 1832.6,1246.2 1837.3,1246.2 1842.0,1246.2"/>
<polyline stroke="#bd8ad5" points="132.4,1226.3 137.1,1226.3 141.8,1226.4 146.5,1226.4 151.2,1226.4 155.9,1226.5 160.6,1226.5 165.3,1226.5 170.0,1226.6 174.7,1226.6 179.4,1226.7 184.1,1226.7 188.8,1226.7 193.5,1226.8 198.2,1226.8 202.9,1226.8 207.5,1226.9 212.2,1226.9 216.9,1226.9 221.6,1227.0 226.3,1227.0 231.0,1227.0 235.7,1227.1 240.4,1227.1 245.1,1227.1 249.8,1227.2 254.5,1227.2 259.2,1227.2 263.9,1227.3 268.6,1227.3 273.3,1227.4 278.0,1227.5 282.7,1227.7 287.4,1227.9 292.1,1228.0 296.8,1228.2 301.5,1228.4 306.2,1228.6 310.9,1228.7 315.6,1228.9 320.3,1229.1 325.0,1229.3 329.7,1229.4 334.4,1229.6 339.1,1229.8 343.8,1230.0 348.5,1230.2 353.1,1230.4 357.8,1230.6 362.5,1230.9 367.2,1231.1 371.9,1231.3 376.6,1231.5 381.3,1231.4 386.0,1231.2 390.7,1231.1 395.4,1230.9 400.1,1230.8 404.8,1230.6 409.5,1230.4 414.2,1230.3 418.9,1230.1 423.6,1230.0 428.3,1229.6 433.0,1229.3 437.7,1229.0 442.4,1228.7 447.1,1228.4 451.8,1228.0 456.5,1227.7 461.2,1227.4 465.9,1227.1 470.6,1226.7 475.3,1226.4 480.0,1226.1 484.7,1225.8 489.4,1225.6 494.1,1225.4 498.8,1225.2 503.4,1225.0 508.1,1224.9 512.8,1224.7 517.5,1224.5 522.2,1224.3 526.9,1224.1 531.6,1223.9 536.3,1223.9 541.0,1223.9 545.7,1223.9 550.4,1223.9 555.1,1223.9 559.8,1223.9 564.5,1223.9 569.2,1223.9 573.9,1223.9 578.6,1223.9 583.3,1223.9 588.0,1223.9 592.7,1223.9 597.4,1223.9 602.1,1223.9 606.8,1223.9 611.5,1223.9 616.2,1223.9 620.9,1223.9 625.6,1223.9 630.3,1223.9 635.0,1223.9 639.7,1223.9 644.4,1223.9 649.0,1223.9 653.7,1223.9 658.4,1223.9 663.1,1223.9 667.8,1223.9 672.5,1223.9 677.2,1223.9 681.9,1223.9 686.6,1223.9 691.3,1223.9 696.0,1223.9 700.7,1223.9 705.4,1223.9 710.1,1223.9 714.8,1223.9 719.5,1223.9 724.2,1223.9 728.9,1223.9 733.6,1223.9 738.3,1223.9 743.0,1223.9 747.7,1223.9 752.4,1223.9 757.1,1223.9 761.8,1223.9 766.5,1223.9 771.2,1223.9 775.9,1223.9 780.6,1223.9 785.3,1223.8 790.0,1223.8 794.6,1223.8 799.3,1223.8 804.0,1223.8 808.7,1223.8 813.4,1223.8 818.1,1223.8 822.8,1223.8 827.5,1223.8 832.2,1223.8 836.9,1223.8 841.6,1223.8 846.3,1223.8 851.0,1223.8 855.7,1223.8 860.4,1223.8 865.1,1223.8 869.8,1223.8 874.5,1223.8 879.2,1223.8 883.9,1223.8 888.6,1223.8 893.3,1223.8 898.0,1223.8 902.7,1223.8 907.4,1223.8 912.1,1223.8 916.8,1223.8 921.5,1223.8 926.2,1223.8 930.9,1223.8 935.6,1223.8 940.2,1223.8 944.9,1223.8 949.6,1223.8 954.3,1223.8 959.0,1223.8 963.7,1223.8 968.4,1223.8 973.1,1223.8 977.8,1223.8 982.5,1223.8 987.2,1223.8 991.9,1223.8 996.6,1223.8 1001.3,1223.8 1006.0,1223.8 1010.7,1223.8 1015.4,1223.8 1020.1,1223.8 1024.8,1223.8 1029.5,1223.8 1034.2,1223.8 1038.9,1223.8 1043.6,1223.8 1048.3,1223.7 1053.0,1223.7 1057.7,1223.7 1062.4,1223.7 1067.1,1223.7 1071.8,1223.7 1076.5,1223.7 1081.2,1223.7 1085.9,1223.7 1090.5,1223.7 1095.2,1223.7 1099.9,1223.7 1104.6,1223.7 1109.3,1223.7 1114.0,1223.7 1118.7,1223.7 1123.4,1223.7 1128.1,1223.7 1132.8,1223.7 1137.5,1223.7 1142.2,1223.7 1146.9,1223.7 1151.6,1223.7 1156.3,1223.7 1161.0,1223.7 1165.7,1223.7 1170.4,1223.7 1175.1,1223.7 1179.8,1223.7 1184.5,1223.7 1189.2,1223.7 1193.9,1223.7 1198.6,1223.7 1203.3,1223.7 1208.0,1223.7 1212.7,1223.7 1217.4,1224.2 1222.1,1224.6 1226.8,1225.1 1231.5,1225.6 1236.1,1226.0 1240.8,1226.5 1245.5,1227.0 1250.2,1227.4 1254.9,1227.9 1259.6,1228.4 1264.3,1228.8 1269.0,1229.3 1273.7,1229.8 1278.4,1230.2 1283.1,1230.0 1287.8,1229.8 1292.5,1229.6 1297.2,1229.4 1301.9,1229.2 1306.6,1228.9 1311.3,1228.7 1316.0,1228.5 1320.7,1228.3 1325.4,1228.1 1330.1,1227.9 1334.8,1227.6 1339.5,1227.4 1344.2,1227.2 1348.9,1227.0 1353.6,1226.7 1358.3,1226.5 1363.0,1226.3 1367.7,1226.0 1372.4,1225.8 1377.1,1225.6 1381.7,1225.3 1386.4,1225.1 1391.1,1224.9 1395.8,1224.6 1400.5,1224.4 1405.2,1224.2 1409.9,1223.9 1414.6,1223.9 1419.3,1223.9 1424.0,1223.9 1428.7,1223.9 1433.4,1223.9 1438.1,1223.9 1442.8,1223.9 1447.5,1223.9 1452.2,1223.9 1456.9,1223.9 1461.6,1223.9 1466.3,1223.8 1471.0,1223.8 1475.7,1223.8 1480.4,1223.8 1485.1,1223.8 1489.8,1223.8 1494.5,1223.8 1499.2,1223.8 1503.9,1223.8 1508.6,1223.8 1513.3,1223.8 1518.0,1223.8 1522.7,1223.7 1527.3,1223.7 1532.0,1223.7 1536.7,1223.7 1541.4,1223.7 1546.1,1223.7 1550.8,1223.7 1555.5,1223.7 1560.2,1223.7 1564.9,1223.7 1569.6,1223.7 1574.3,1223.6 1579.0,1223.6 1583.7,1223.6 1588.4,1223.6 1593.1,1223.6 1597.8,1223.6 1602.5,1223.6 1607.2,1223.6 1611.9,1223.6 1616.6,1223.6 1621.3,1223.6 1626.0,1223.6 1630.7,1223.5 1635.4,1223.5 1640.1,1223.5 1644.8,1223.5 1649.5,1223.5 1654.2,1223.5 1658.9,1223.5 1663.6,1223.5 1668.3,1223.5 1673.0,1223.5 1677.6,1223.5 1682.3,1223.5 1687.0,1223.4 1691.7,1223.4 1696.4,1223.4 1701.1,1223.4 1705.8,1223.4 1710.5,1223.4 1715.2,1223.4 1719.9,1223.4 1724.6,1223.4 1729.3,1223.4 1734.0,1223.4 1738.7,1223.3 1743.4,1223.3 1748.1,1223.3 1752.8,1223.3 1757.5,1223.3 1762.2,1223.3 1766.9,1223.3 1771.6,1223.3 1776.3,1223.3 1781.0,1223.3 1785.7,1223.3 1790.4,1223.3 1795.1,1223.2 1799.8,1223.2 1804.5,1223.2 1809.2,1223.2 1813.9,1223.2 1818.6,1223.2 1823.2,1223.2 1827.9,1223.2 1832.6,1223.2 1837.3,1223.2 1842.0,1223.2"/>
<polyline stroke="#b16b57" points="132.4,1150.9 137.1,1150.9 141.8,1150.9 146.5,1150.9 151.2,1150.9 155.9,1150.9 160.6,1150.9 165.3,1150.9 170.0,1150.9 174.7,1150.9 179.4,1150.9 184.1,1144.6 188.8,1144.6 193.5,1144.6 198.2,1144.6 202.9,1144.6 207.5,1144.6 212.2,1144.6 216.9,1150.9 221.6,1150.9 226.3,1150.9 231.0,1150.9 235.7,1150.9 240.4,1150.9 245.1,1139.6 249.8,1139.6 254.5,1139.6 259.2,1139.6 263.9,1139.6 268.6,1139.6 273.3,1139.6 278.0,1145.9 282.7,1145.9 287.4,1141.0 292.1,1141.0 296.8,1141.0 301.5,1141.0 306.2,1141.0 310.9,1141.0 315.6,1141.0 320.3,1141.0 325.0,1148.3 329.7,1148.3 334.4,1148.3 339.1,1148.3 343.8,1148.3 348.5,1143.3 353.1,1143.3 357.8,1143.3 362.5,1143.3 367.2,1143.3 371.9,1143.3 376.6,1143.3 381.3,1148.3 386.0,1148.3 390.7,1148.3 395.4,1148.3 400.1,1142.0 404.8,1142.0 409.5,1142.0 414.2,1142.0 418.9,1142.0 423.6,1142.0 428.3,1142.0 433.0,1145.9 437.7,1145.9 442.4,1145.9 447.1,1145.9 451.8,1145.9 456.5,1153.3 461.2,1153.3 465.9,1153.3 470.6,1153.3 475.3,1153.3 480.0,1143.3 484.7,1143.3 489.4,1143.3 494.1,1143.3 498.8,1143.3 503.4,1143.3 508.1,1143.3 512.8,1143.3 517.5,1143.3 522.2,1143.3 526.9,1143.3 531.6,1143.3 536.3,1143.3 541.0,1143.3 545.7,1143.3 550.4,1143.3 555.1,1143.3 559.8,1149.6 564.5,1149.6 569.2,1149.6 573.9,1149.6 578.6,1149.6 583.3,1149.6 588.0,1149.6 592.7,1139.6 597.4,1139.6 602.1,1139.6 606.8,1139.6 611.5,1139.6 616.2,1139.6 620.9,1139.6 625.6,1139.6 630.3,1153.3 635.0,1153.3 639.7,1148.3 644.4,1148.3 649.0,1148.3 653.7,1148.3 658.4,1148.3 663.1,1142.0 667.8,1142.0 672.5,1142.0 677.2,1142.0 681.9,1142.0 686.6,1142.0 691.3,1142.0 696.0,1142.0 700.7,1150.9 705.4,1150.9 710.1,1150.9 714.8,1150.9 719.5,1150.9 724.2,1150.9 728.9,1143.6 733.6,1143.6 738.3,1143.6 743.0,1143.6 747.7,1143.6 752.4,1143.6 757.1,1143.6 761.8,1138.9 766.5,1138.9 771.2,1138.9 775.9,1138.9 780.6,1138.9 785.3,1138.9 790.0,1138.9 794.6,1144.6 799.3,1144.6 804.0,1149.6 808.7,1143.6 813.4,1143.6 818.1,1143.6 822.8,1143.6 827.5,1143.6 832.2,1143.6 836.9,1143.6 841.6,1143.6 846.3,1148.3 851.0,1148.3 855.7,1148.3 860.4,1152.0 865.1,1152.0 869.8,1152.0 874.5,1139.6 879.2,1139.6 883.9,1139.6 888.6,1139.6 893.3,1139.6 898.0,1139.6 902.7,1139.6 907.4,1139.6 912.1,1143.6 916.8,1143.6 921.5,1143.6 926.2,1143.6 930.9,1143.6 935.6,1143.6 940.2,1143.6 944.9,1150.9 949.6,1150.9 954.3,1150.9 959.0,1145.9 963.7,1145.9 968.4,1145.9 973.1,1145.9 977.8,1145.9 982.5,1145.9 987.2,1141.0 991.9,1141.0 996.6,1141.0 1001.3,1141.0 1006.0,1141.0 1010.7,1141.0 1015.4,1141.0 1020.1,1153.3 1024.8,1153.3 1029.5,1153.3 1034.2,1153.3 1038.9,1153.3 1043.6,1153.3 1048.3,1143.6 1053.0,1143.6 1057.7,1143.6 1062.4,1143.6 1067.1,1143.6 1071.8,1143.6 1076.5,1145.9 1081.2,1145.9 1085.9,1145.9 1090.5,1145.9 1095.2,1145.9 1099.9,1145.9 1104.6,1145.9 1109.3,1141.5 1114.0,1141.5 1118.7,1141.5 1123.4,1141.5 1128.1,1141.5 1132.8,1141.5 1137.5,1141.5 1142.2,1141.5 1146.9,1141.5 1151.6,1141.5 1156.3,1141.5 1161.0,1144.6 1165.7,1144.6 1170.4,1144.6 1175.1,1144.6 1179.8,1144.6 1184.5,1144.6 1189.2,1144.6 1193.9,1144.6 1198.6,1144.6 1203.3,1144.6 1208.0,1144.6 1212.7,1144.6 1217.4,1144.6 1222.1,1144.6 1226.8,1144.6 1231.5,1144.6 1236.1,1144.6 1240.8,1144.6 1245.5,1144.6 1250.2,1144.6 1254.9,1144.6 1259.6,1144.6 1264.3,1144.6 1269.0,1144.6 1273.7,1144.6 1278.4,1144.6 1283.1,1144.6 1287.8,1144.6 1292.5,1144.6 1297.2,1138.9 1301.9,1138.9 1306.6,1138.9 1311.3,1138.9 1316.0,1138.9 1320.7,1138.9 1325.4,1138.9 1330.1,1144.6 1334.8,1144.6 1339.5,1144.6 1344.2,1144.6 1348.9,1153.3 1353.6,1153.3 1358.3,1153.3 1363.0,1144.6 1367.7,1144.6 1372.4,1144.6 1377.1,1144.6 1381.7,1144.6 1386.4,1144.6 1391.1,1144.6 1395.8,1144.6 1400.5,1144.6 1405.2,1144.6 1409.9,1144.6 1414.6,1144.6 1419.3,1149.6 1424.0,1149.6 1428.7,1143.6 1433.4,1143.6 1438.1,1143.6 1442.8,1143.6 1447.5,1143.6 1452.2,1143.6 1456.9,1143.6 1461.6,1143.6 1466.3,1143.6 1471.0,1143.6 1475.7,1143.6 1480.4,1143.6 1485.1,1143.6 1489.8,1143.6 1494.5,1143.6 1499.2,1143.6 1503.9,1149.6 1508.6,1149.6 1513.3,1149.6 1518.0,1149.6 1522.7,1149.6 1527.3,1149.6 1532.0,1149.6 1536.7,1149.6 1541.4,1149.6 1546.1,1149.6 1550.8,1149.6 1555.5,1143.6 1560.2,1143.6 1564.9,1143.6 1569.6,1143.6 1574.3,1143.6 1579.0,1143.6 1583.7,1143.6 1588.4,1149.6 1593.1,1149.6 1597.8,1149.6 1602.5,1149.6 1607.2,1144.6 1611.9,1144.6 1616.6,1144.6 1621.3,1144.6 1626.0,1144.6 1630.7,1144.6 1635.4,1144.6 1640.1,1149.6 1644.8,1149.6 1649.5,1149.6 1654.2,1143.6 1658.9,1143.6 1663.6,1143.6 1668.3,1143.6 1673.0,1143.6 1677.6,1143.6 1682.3,1137.3 1687.0,1137.3 1691.7,1137.3 1696.4,1137.3 1701.1,1137.3 1705.8,1137.3 1710.5,1137.3 1715.2,1149.6 1719.9,1149.6 1724.6,1149.6 1729.3,1149.6 1734.0,1149.6 1738.7,1149.6 1743.4,1145.9 1748.1,1145.9 1752.8,1145.9 1757.5,1145.9 1762.2,1145.9 1766.9,1145.9 1771.6,1145.9 1776.3,1145.9 1781.0,1149.6 1785.7,1149.6 1790.4,1149.6 1795.1,1144.6 1799.8,1144.6 1804.5,1142.3 1809.2,1142.3 1813.9,1142.3 1818.6,1142.3 1823.2,1142.3 1827.9,1142.3 1832.6,1142.3 1837.3,1148.3 1842.0,1148.3"/>
<polyline stroke="#2a2eec" points="132.4,1220.6 137.1,1221.3 141.8,1223.2 146.5,1219.8 151.2,1220.8 155.9,1220.7 160.6,1221.0 165.3,1218.7 170.0,1219.8 174.7,1219.3 179.4,1221.8 184.1,1222.1 188.8,1223.0 193.5,1221.7 198.2,1225.8 202.9,1218.6 207.5,1221.1 212.2,1221.2 216.9,1219.8 221.6,1221.9 226.3,1220.9 231.0,1220.0 235.7,1223.9 240.4,1218.4 245.1,1221.1 249.8,1220.3 254.5,1223.0 259.2,1222.3 263.9,1218.5 268.6,1222.2 273.3,1222.0 278.0,1220.5 282.7,1218.9 287.4,1225.4 292.1,1218.8 296.8,1220.8 301.5,1219.8 306.2,1223.0 310.9,1220.8 315.6,1218.6 320.3,1221.5 325.0,1222.4 329.7,1222.0 334.4,1222.2 339.1,1220.0 343.8,1221.0 348.5,1222.1 353.1,1220.0 357.8,1223.1 362.5,1223.7 367.2,1217.2 371.9,1222.4 376.6,1218.6 381.3,1221.4 386.0,1221.7 390.7,1220.4 395.4,1222.7 400.1,1222.7 404.8,1221.6 409.5,1221.9 414.2,1220.1 418.9,1218.0 423.6,1223.3 428.3,1222.8 433.0,1220.0 437.7,1220.4 442.4,1219.4 447.1,1222.5 451.8,1220.3 456.5,1221.4 461.2,1224.0 465.9,1220.5 470.6,1223.9 475.3,1220.4 480.0,1222.1 484.7,1221.6 489.4,1217.7 494.1,1218.7 498.8,1220.6 503.4,1220.6 508.1,1222.6 512.8,1219.2 517.5,1220.2 522.2,1222.7 526.9,1224.1 531.6,1221.3 536.3,1221.6 541.0,1219.8 545.7,1223.0 550.4,1222.8 555.1,1220.6 559.8,1221.1 564.5,1219.7 569.2,1219.4 573.9,1222.8 578.6,1225.3 583.3,1221.2 588.0,1222.5 592.7,1220.9 597.4,1225.9 602.1,1221.5 606.8,1221.1 611.5,1222.2 616.2,1220.4 620.9,1221.1 625.6,1220.9 630.3,1219.1 635.0,1219.1 639.7,1219.3 644.4,1220.7 649.0,1221.1 653.7,1220.3 658.4,1220.8 663.1,1222.5 667.8,1220.6 672.5,1219.7 677.2,1222.0 681.9,1223.1 686.6,1220.3 691.3,1222.6 696.0,1223.8 700.7,1221.7 705.4,1223.8 710.1,1220.7 714.8,1222.2 719.5,1221.2 724.2,1219.4 728.9,1219.4 733.6,1221.5 738.3,1225.1 743.0,1222.1 747.7,1223.3 752.4,1219.8 757.1,1218.7 761.8,1220.1 766.5,1220.2 771.2,1220.4 775.9,1220.1 780.6,1221.9 785.3,1219.8 790.0,1221.8 794.6,1223.2 799.3,1221.2 804.0,1218.6 808.7,1221.6 813.4,1224.3 818.1,1219.2 822.8,1220.9 827.5,1220.4 832.2,1222.1 836.9,1220.5 841.6,1218.6 846.3,1222.4 851.0,1220.1 855.7,1220.7 860.4,1222.7 865.1,1221.0 869.8,1220.3 874.5,1222.7 879.2,1219.3 883.9,1223.2 888.6,1219.3 893.3,1220.2 898.0,1220.9 902.7,1222.6 907.4,1222.6 912.1,1225.0 916.8,1221.3 921.5,1221.5 926.2,1220.3 930.9,1219.6 935.6,1220.9 940.2,1221.8 944.9,1219.6 949.6,1221.3 954.3,1221.3 959.0,1223.3 963.7,1219.5 968.4,1222.4 973.1,1218.0 977.8,1222.7 982.5,1222.1 987.2,1221.1 991.9,1222.5 996.6,1223.7 1001.3,1223.2 1006.0,1222.7 1010.7,1221.7 1015.4,1219.6 1020.1,1220.2 1024.8,1220.7 1029.5,1219.9 1034.2,1224.9 1038.9,1222.3 1043.6,1222.2 1048.3,1223.0 1053.0,1220.5 1057.7,1222.4 1062.4,1223.1 1067.1,1219.8 1071.8,1222.4 1076.5,1221.7 1081.2,1223.8 1085.9,1219.8 1090.5,1221.2 1095.2,1218.9 1099.9,1217.6 1104.6,1220.2 1109.3,1221.9 1114.0,1222.6 1118.7,1218.5 1123.4,1221.6 1128.1,1220.2 1132.8,1220.9 1137.5,1226.9 1142.2,1221.0 1146.9,1221.0 1151.6,1220.9 1156.3,1221.5 1161.0,1220.9 1165.7,1223.0 1170.4,1220.3 1175.1,1222.1 1179.8,1221.0 1184.5,1218.5 1189.2,1220.9 1193.9,1223.0 1198.6,1220.7 1203.3,1223.7 1208.0,1221.0 1212.7,1218.9 1217.4,1223.0 1222.1,1221.5 1226.8,1222.7 1231.5,1221.0 1236.1,1220.7 1240.8,1221.0 1245.5,1221.7 1250.2,1224.5 1254.9,1222.8 1259.6,1222.0 1264.3,1219.9 1269.0,1224.6 1273.7,1219.5 1278.4,1222.5 1283.1,1224.1 1287.8,1218.9 1292.5,1220.7 1297.2,1222.8 1301.9,1220.8 1306.6,1220.3 1311.3,1223.7 1316.0,1219.2 1320.7,1222.7 1325.4,1219.9 1330.1,1222.2 1334.8,1223.9 1339.5,1222.3 1344.2,1222.1 1348.9,1221.1 1353.6,1224.1 1358.3,1223.0 1363.0,1220.8 1367.7,1221.9 1372.4,1222.2 1377.1,1220.6 1381.7,1223.5 1386.4,1218.0 1391.1,1222.5 1395.8,1220.7 1400.5,1221.6 1405.2,1219.7 1409.9,1222.0 1414.6,1222.6 1419.3,1220.9 1424.0,1220.3 1428.7,1221.5 1433.4,1217.9 1438.1,1220.1 1442.8,1219.0 1447.5,1219.2 1452.2,1219.6 1456.9,1221.6 1461.6,1218.6 1466.3,1221.9 1471.0,1221.1 1475.7,1219.0 1480.4,1219.8 1485.1,1223.1 1489.8,1221.8 1494.5,1222.8 1499.2,1219.4 1503.9,1221.9 1508.6,1221.3 1513.3,1222.4 1518.0,1222.1 1522.7,1220.2 1527.3,1223.0 1532.0,1221.2 1536.7,1222.1 1541.4,1221.9 1546.1,1223.4 1550.8,1219.4 1555.5,1224.0 1560.2,1223.3 1564.9,1222.0 1569.6,1221.2 1574.3,1222.6 1579.0,1224.0 1583.7,1222.1 1588.4,1223.0 1593.1,1222.4 1597.8,1218.7 1602.5,1224.7 1607.2,1221.4 1611.9,1220.7 1616.6,1222.0 1621.3,1221.9 1626.0,1219.6 1630.7,1221.7 1635.4,1224.2 1640.1,1221.9 1644.8,1220.7 1649.5,1222.0 1654.2,1222.3 1658.9,1221.0 1663.6,1222.1 1668.3,1221.1 1673.0,1220.3 1677.6,1222.4 1682.3,1223.9 1687.0,1219.2 1691.7,1220.7 1696.4,1222.6 1701.1,1223.6 1705.8,1221.3 1710.5,1221.0 1715.2,1220.5 1719.9,1220.7 1724.6,1222.1 1729.3,1222.0 1734.0,1223.8 1738.7,1222.5 1743.4,1222.1 1748.1,1219.6 1752.8,1223.5 1757.5,1218.3 1762.2,1219.9 1766.9,1222.2 1771.6,1222.3 1776.3,1221.0 1781.0,1220.7 1785.7,1220.2 1790.4,1224.2 1795.1,1221.9 1799.8,1220.5 1804.5,1219.9 1809.2,1220.6 1813.9,1221.5 1818.6,1220.8 1823.2,1222.2 1827.9,1218.5 1832.6,1219.9 1837.3,1220.7 1842.0,1222.3"/>
<polyline stroke="#fa7c17" points="132.4,1031.5 137.1,1062.9 141.8,1000.1 146.5,997.5 151.2,1018.4 155.9,928.1 160.6,1018.4 165.3,1039.4 170.0,1055.1 174.7,1052.5 179.4,1064.2 184.1,1073.4 188.8,1073.4 193.5,1097.0 198.2,1099.6 202.9,1078.6 207.5,1123.2 212.2,1065.6 216.9,1117.9 221.6,1133.6 226.3,1138.9 231.0,1133.6 235.7,1138.9 240.4,1159.8 245.1,1128.4 249.8,1123.2 254.5,1154.6 259.2,1138.9 263.9,1128.4 268.6,1186.0 273.3,1153.3 278.0,1157.2 282.7,1102.2 287.4,1167.7 292.1,1052.5 296.8,1117.9 301.5,1089.1 306.2,1035.7 310.9,1086.5 315.6,1078.6 320.3,1068.2 325.0,1060.3 329.7,1019.7 334.4,1036.8 339.1,1000.1 343.8,976.5 348.5,917.1 353.1,979.2 357.8,1013.2 362.5,968.7 367.2,998.8 371.9,958.2 376.6,997.5 381.3,923.1 386.0,976.5 390.7,1000.1 395.4,996.2 400.1,1010.6 404.8,960.8 409.5,943.6 414.2,1022.4 418.9,1057.7 423.6,1066.9 428.3,1076.0 433.0,1057.7 437.7,1049.9 442.4,1055.1 447.1,1062.9 451.8,1057.7 456.5,1094.4 461.2,1091.7 465.9,1073.4 470.6,1099.6 475.3,1036.8 480.0,1120.5 484.7,1133.6 489.4,1141.5 494.1,1157.2 498.8,1154.6 503.4,1167.7 508.1,1152.0 512.8,1170.3 517.5,1128.4 522.2,1104.8 526.9,1099.6 531.6,1112.7 536.3,1078.6 541.0,1038.1 545.7,1089.1 550.4,1015.8 555.1,1070.8 559.8,1036.8 564.5,1055.1 569.2,1028.9 573.9,1027.3 578.6,1044.6 583.3,997.5 588.0,1015.8 592.7,1034.1 597.4,1002.7 602.1,964.0 606.8,1015.8 611.5,1055.1 616.2,1028.9 620.9,1003.8 625.6,1042.0 630.3,1021.1 635.0,1039.4 639.7,1014.8 644.4,1013.2 649.0,1015.8 653.7,1018.4 658.4,1026.3 663.1,1002.7 667.8,1031.5 672.5,1081.3 677.2,1076.0 681.9,1083.9 686.6,1097.0 691.3,1090.2 696.0,1002.7 700.7,967.9 705.4,1052.5 710.1,1089.1 714.8,1125.8 719.5,1089.1 724.2,1074.2 728.9,1138.9 733.6,1118.7 738.3,1074.2 743.0,1153.3 747.7,1106.4 752.4,1118.7 757.1,1131.0 761.8,1138.9 766.5,1118.7 771.2,1102.2 775.9,1108.8 780.6,1117.9 785.3,1123.7 790.0,1123.7 794.6,1040.7 799.3,1099.6 804.0,1032.8 808.7,1051.2 813.4,1018.4 818.1,1062.9 822.8,1039.4 827.5,1034.7 832.2,1034.4 836.9,1043.3 841.6,1003.8 846.3,1015.8 851.0,1005.3 855.7,1011.1 860.4,1013.7 865.1,1003.8 869.8,980.2 874.5,923.1 879.2,992.3 883.9,1022.4 888.6,1044.6 893.3,1002.7 898.0,1007.4 902.7,1074.2 907.4,1033.4 912.1,1012.4 916.8,1066.9 921.5,1071.8 926.2,1049.9 930.9,1059.5 935.6,1089.1 940.2,1089.1 944.9,1089.1 949.6,1095.1 954.3,1076.0 959.0,1111.4 963.7,1133.6 968.4,1138.9 973.1,1115.3 977.8,1111.4 982.5,1083.9 987.2,1153.3 991.9,1162.4 996.6,1113.7 1001.3,1141.5 1006.0,1163.2 1010.7,1138.9 1015.4,1113.7 1020.1,1083.9 1024.8,1071.6 1029.5,1076.0 1034.2,1085.2 1038.9,1087.8 1043.6,1083.9 1048.3,1061.6 1053.0,1014.8 1057.7,1076.0 1062.4,1026.3 1067.1,1059.5 1071.8,998.8 1076.5,1065.6 1081.2,1013.7 1085.9,996.2 1090.5,988.9 1095.2,1018.4 1099.9,1038.3 1104.6,977.6 1109.3,929.4 1114.0,1002.7 1118.7,1031.5 1123.4,1014.8 1128.1,1012.4 1132.8,1029.7 1137.5,1064.2 1142.2,1049.9 1146.9,1061.9 1151.6,1074.2 1156.3,1056.9 1161.0,1044.6 1165.7,1052.5 1170.4,1034.7 1175.1,1016.1 1179.8,1101.4 1184.5,1106.4 1189.2,1117.9 1193.9,1120.5 1198.6,1132.3 1203.3,1118.7 1208.0,1077.9 1212.7,1125.8 1217.4,1107.4 1222.1,1128.4 1226.8,1113.7 1231.5,1108.8 1236.1,1036.8 1240.8,1113.7 1245.5,1131.0 1250.2,1102.2 1254.9,1099.6 1259.6,1094.4 1264.3,1108.8 1269.0,1104.8 1273.7,1083.9 1278.4,1066.6 1283.1,1069.2 1287.8,1089.1 1292.5,1079.2 1297.2,975.2 1301.9,1055.1 1306.6,1003.8 1311.3,1024.7 1316.0,1022.4 1320.7,1045.7 1325.4,1018.4 1330.1,1017.4 1334.8,1023.7 1339.5,1026.3 1344.2,1002.7 1348.9,985.2 1353.6,968.7 1358.3,947.7 1363.0,1003.8 1367.7,1022.4 1372.4,1034.7 1377.1,1024.7 1381.7,988.9 1386.4,962.9 1391.1,1024.7 1395.8,1036.0 1400.5,1060.6 1405.2,1014.8 1409.9,1052.5 1414.6,1076.8 1419.3,1037.0 1424.0,1064.2 1428.7,1068.2 1433.4,1079.2 1438.1,1095.1 1442.8,1094.4 1447.5,1128.4 1452.2,1108.8 1456.9,1097.8 1461.6,1113.7 1466.3,1116.3 1471.0,1153.3 1475.7,1175.5 1480.4,1158.2 1485.1,1133.6 1489.8,1028.9 1494.5,1138.9 1499.2,1144.1 1503.9,1153.3 1508.6,1125.8 1513.3,1083.9 1518.0,1076.0 1522.7,1104.8 1527.3,1083.9 1532.0,1079.2 1536.7,1089.1 1541.4,979.2 1546.1,1052.5 1550.8,1042.0 1555.5,1052.5 1560.2,1047.2 1564.9,1069.2 1569.6,1061.6 1574.3,1005.3 1579.0,1068.2 1583.7,1012.2 1588.4,977.9 1593.1,1005.3 1597.8,1003.5 1602.5,1029.4 1607.2,1000.1 1611.9,1012.2 1616.6,1009.8 1621.3,1029.4 1626.0,1040.7 1630.7,1033.4 1635.4,1052.5 1640.1,1027.1 1644.8,996.2 1649.5,1032.0 1654.2,1071.6 1658.9,1072.9 1663.6,1074.2 1668.3,1053.0 1673.0,1113.7 1677.6,1089.1 1682.3,1118.7 1687.0,1080.2 1691.7,1158.2 1696.4,1148.3 1701.1,1153.3 1705.8,1133.6 1710.5,1164.5 1715.2,1133.6 1719.9,1118.7 1724.6,1121.1 1729.3,1138.9 1734.0,1148.3 1738.7,1158.2 1743.4,1094.4 1748.1,1133.6 1752.8,1113.7 1757.5,1131.0 1762.2,1103.8 1766.9,1083.9 1771.6,1113.7 1776.3,1118.7 1781.0,1097.0 1785.7,1079.2 1790.4,1074.2 1795.1,1039.4 1799.8,1066.6 1804.5,1015.8 1809.2,1019.7 1813.9,1029.4 1818.6,1059.3 1823.2,1054.3 1827.9,1017.1 1832.6,1032.0 1837.3,984.9 1842.0,1026.3"/>
<polyline stroke="#328c06" points="132.4,1065.6 137.1,1089.1 141.8,1068.2 146.5,1040.7 151.2,1066.6 155.9,964.0 160.6,1044.6 165.3,1059.5 170.0,1062.9 174.7,1048.3 179.4,1050.6 184.1,1060.6 188.8,1042.5 193.5,1044.6 198.2,1053.3 202.9,1037.0 207.5,1062.9 212.2,1023.7 216.9,1038.3 221.6,1050.6 226.3,1055.6 231.0,1059.5 235.7,1047.2 240.4,1048.3 245.1,1017.4 249.8,1003.8 254.5,1058.2 259.2,1059.5 263.9,1013.7 268.6,1069.2 273.3,1043.3 278.0,1070.8 282.7,1066.9 287.4,1057.7 292.1,964.0 296.8,1044.6 301.5,1003.8 306.2,1023.7 310.9,1027.3 315.6,1011.1 320.3,1039.4 325.0,1031.5 329.7,1022.4 334.4,1027.3 339.1,996.2 343.8,1014.8 348.5,940.7 353.1,1023.7 357.8,1043.3 362.5,1000.1 367.2,1017.4 371.9,1013.7 376.6,1021.1 381.3,961.6 386.0,1043.3 390.7,1034.7 395.4,1031.5 400.1,1052.5 404.8,970.3 409.5,967.9 414.2,1002.7 418.9,1031.5 423.6,1044.6 428.3,1023.7 433.0,1016.1 437.7,1018.4 442.4,996.2 447.1,990.2 451.8,973.9 456.5,1022.4 461.2,993.8 465.9,976.5 470.6,977.6 475.3,935.7 480.0,1000.1 484.7,1008.7 489.4,997.0 494.1,1021.1 498.8,1022.4 503.4,1028.9 508.1,1017.4 512.8,988.9 517.5,1016.1 522.2,980.2 526.9,961.6 531.6,1000.1 536.3,971.6 541.0,945.4 545.7,997.5 550.4,933.1 555.1,986.2 559.8,950.4 564.5,1011.1 569.2,977.6 573.9,980.2 578.6,996.2 583.3,971.6 588.0,982.6 592.7,1019.7 597.4,967.9 602.1,933.1 606.8,997.5 611.5,1004.3 616.2,1003.8 620.9,961.6 625.6,1018.4 630.3,997.0 635.0,1013.7 639.7,1001.2 644.4,1007.4 649.0,996.2 653.7,996.2 658.4,990.2 663.1,951.7 667.8,980.2 672.5,998.8 677.2,993.8 681.9,998.7 686.6,1018.5 691.3,995.0 696.0,947.9 700.7,871.2 705.4,967.8 710.1,987.6 714.8,1004.9 719.5,985.1 724.2,951.7 728.9,982.6 733.6,980.1 738.3,938.0 743.0,980.1 747.7,951.7 752.4,947.9 757.1,960.3 761.8,966.5 766.5,959.1 771.2,940.5 775.9,956.6 780.6,954.1 785.3,970.2 790.0,957.9 794.6,908.3 799.3,974.0 804.0,920.7 808.7,962.8 813.4,938.0 818.1,983.9 822.8,960.3 827.5,975.2 832.2,964.0 836.9,980.1 841.6,956.6 846.3,977.7 851.0,969.0 855.7,990.1 860.4,970.2 865.1,988.8 869.8,962.8 874.5,879.8 879.2,960.3 883.9,977.7 888.6,992.5 893.3,957.9 898.0,934.3 902.7,986.3 907.4,956.6 912.1,947.9 916.8,978.9 921.5,974.0 926.2,949.2 930.9,947.5 935.6,952.9 940.2,959.1 944.9,966.5 949.6,977.7 954.3,947.9 959.0,974.0 963.7,993.8 968.4,967.8 973.1,943.0 977.8,930.6 982.5,921.9 987.2,967.8 991.9,972.7 996.6,934.3 1001.3,966.5 1006.0,964.0 1010.7,966.5 1015.4,952.9 1020.1,940.5 1024.8,920.7 1029.5,924.4 1034.2,964.0 1038.9,949.2 1043.6,962.8 1048.3,966.5 1053.0,918.2 1057.7,965.3 1062.4,933.1 1067.1,977.7 1071.8,924.4 1076.5,977.7 1081.2,981.4 1085.9,945.5 1090.5,931.9 1095.2,967.8 1099.9,971.5 1104.6,918.2 1109.3,857.6 1114.0,928.1 1118.7,961.6 1123.4,956.6 1128.1,961.6 1132.8,950.4 1137.5,987.6 1142.2,965.3 1146.9,980.1 1151.6,967.8 1156.3,966.5 1161.0,951.7 1165.7,935.6 1170.4,925.7 1175.1,903.4 1179.8,974.0 1184.5,954.1 1189.2,959.1 1193.9,947.9 1198.6,947.9 1203.3,959.1 1208.0,898.4 1212.7,950.4 1217.4,934.3 1222.1,957.9 1226.8,951.7 1231.5,905.8 1236.1,925.7 1240.8,967.8 1245.5,957.9 1250.2,944.2 1254.9,956.6 1259.6,931.9 1264.3,971.5 1269.0,969.0 1273.7,983.9 1278.4,946.7 1283.1,992.5 1287.8,962.8 1292.5,947.9 1297.2,870.7 1301.9,943.0 1306.6,910.8 1311.3,928.1 1316.0,930.6 1320.7,970.2 1325.4,940.5 1330.1,946.7 1334.8,949.2 1339.5,945.5 1344.2,928.1 1348.9,960.3 1353.6,938.0 1358.3,920.7 1363.0,952.9 1367.7,974.0 1372.4,965.3 1377.1,947.9 1381.7,914.5 1386.4,890.5 1391.1,934.3 1395.8,936.8 1400.5,961.6 1405.2,897.9 1409.9,950.4 1414.6,965.3 1419.3,915.8 1424.0,920.7 1428.7,921.9 1433.4,944.2 1438.1,941.8 1442.8,940.5 1447.5,955.4 1452.2,920.7 1456.9,915.8 1461.6,923.2 1466.3,914.5 1471.0,935.6 1475.7,952.9 1480.4,947.9 1485.1,934.3 1489.8,884.8 1494.5,940.5 1499.2,943.0 1503.9,941.8 1508.6,941.8 1513.3,905.8 1518.0,913.3 1522.7,947.9 1527.3,920.7 1532.0,928.1 1536.7,928.1 1541.4,842.7 1546.1,913.3 1550.8,903.4 1555.5,925.7 1560.2,900.9 1564.9,936.8 1569.6,928.1 1574.3,927.6 1579.0,943.0 1583.7,914.5 1588.4,909.6 1593.1,928.1 1597.8,941.8 1602.5,946.7 1607.2,914.5 1611.9,914.5 1616.6,903.4 1621.3,939.3 1626.0,944.2 1630.7,946.7 1635.4,945.5 1640.1,940.5 1644.8,892.2 1649.5,900.9 1654.2,940.5 1658.9,929.4 1663.6,929.4 1668.3,891.0 1673.0,924.4 1677.6,907.1 1682.3,933.1 1687.0,856.3 1691.7,920.7 1696.4,926.9 1701.1,903.4 1705.8,893.5 1710.5,921.9 1715.2,920.2 1719.9,919.5 1724.6,888.5 1729.3,925.7 1734.0,933.1 1738.7,933.6 1743.4,895.9 1748.1,918.2 1752.8,903.4 1757.5,918.2 1762.2,881.1 1766.9,871.2 1771.6,908.3 1776.3,940.5 1781.0,894.7 1785.7,884.8 1790.4,912.0 1795.1,867.5 1799.8,915.8 1804.5,863.7 1809.2,850.1 1813.9,883.6 1818.6,913.3 1823.2,925.7 1827.9,874.9 1832.6,905.8 1837.3,873.7 1842.0,888.5"/>
</g>
<text x="988" y="54" font-size="44.44" text-anchor="middle">Time series of the data</text>
<text x="133.3" y="1342.7" font-size="38.89" text-anchor="middle">2020</text>
<text x="377.0" y="1342.7" font-size="38.89" text-anchor="middle">2021</text>
<text x="621.0" y="1342.7" font-size="38.89" text-anchor="middle">2022</text>
<text x="865.0" y="1342.7" font-size="38.89" text-anchor="middle">2023</text>
<text x="1109.0" y="1342.7" font-size="38.89" text-anchor="middle">2024</text>
<text x="1358.0" y="1342.7" font-size="38.89" text-anchor="middle">2025</text>
<text x="1602.0" y="1342.7" font-size="38.89" text-anchor="middle">2026</text>
<text x="122.5" y="1261.0" font-size="38.89" text-anchor="end">0</text>
<text x="122.5" y="999.2" font-size="38.89" text-anchor="end">10</text>
<text x="122.5" y="737.4" font-size="38.89" text-anchor="end">20</text>
<text x="122.5" y="475.6" font-size="38.89" text-anchor="end">30</text>
<text x="122.5" y="213.8" font-size="38.89" text-anchor="end">40</text>
<text x="987.2" y="1395" font-size="41.67" text-anchor="middle">Weeks</text>
<text transform="translate(54.8,689.9) rotate(-90)" font-size="41.67" text-anchor="middle">Spending</text>
<g stroke-width="4.17" stroke-linecap="round">
<line x1="1877.1" y1="338.8" x2="1954.9" y2="338.8" stroke="#2a2eec"/>
<line x1="1877.1" y1="396.2" x2="1954.9" y2="396.2" stroke="#fa7c17"/>
<line x1="1877.1" y1="453.7" x2="1954.9" y2="453.7" stroke="#328c06"/>
<line x1="1877.1" y1="511.1" x2="1954.9" y2="511.1" stroke="#c10c90"/>
<line x1="1877.1" y1="568.5" x2="1954.9" y2="568.5" stroke="#933708"/>
<line x1="1877.1" y1="626.0" x2="1954.9" y2="626.0" stroke="#65e5f3"/>
<line x1="1877.1" y1="683.4" x2="1954.9" y2="683.4" stroke="#e6e135"/>
<line x1="1877.1" y1="740.8" x2="1954.9" y2="740.8" stroke="#1ccd6a"/>
<line x1="1877.1" y1="798.2" x2="1954.9" y2="798.2" stroke="#bd8ad5"/>
<line x1="1877.1" y1="855.7" x2="1954.9" y2="855.7" stroke="#b16b57"/>
<line x1="1877.1" y1="913.1" x2="1954.9" y2="913.1" stroke="#2a2eec"/>
<line x1="1877.1" y1="970.5" x2="1954.9" y2="970.5" stroke="#fa7c17"/>
<line x1="1877.1" y1="1028.0" x2="1954.9" y2="1028.0" stroke="#328c06"/>
</g>
<text x="1985.8" y="353.2" font-size="38.89">Google Search</text>
<text x="1985.8" y="410.6" font-size="38.89">DV360</text>
<text x="1985.8" y="468.1" font-size="38.89">Facebook</text>
<text x="1985.8" y="525.5" font-size="38.89">AMS</text>
<text x="1985.8" y="582.9" font-size="38.89">TV</text>
<text x="1985.8" y="640.4" font-size="38.89">VOD</text>
<text x="1985.8" y="697.8" font-size="38.89">OOH</text>
<text x="1985.8" y="755.2" font-size="38.89">Radio</text>
<text x="1985.8" y="812.6" font-size="38.89">Numeric Distribution</text>
<text x="1985.8" y="870.1" font-size="38.89">RSP</text>
<text x="1985.8" y="927.5" font-size="38.89">Promotion</text>
<text x="1985.8" y="984.9" font-size="38.89">target1</text>
<text x="1985.8" y="1042.4" font-size="38.89">target2</text>
</svg></body></html>
